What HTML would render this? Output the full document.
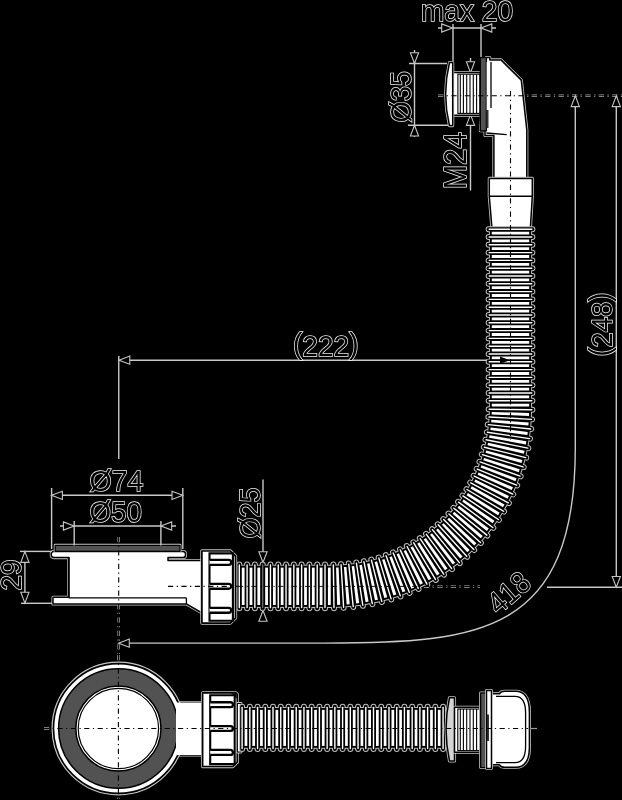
<!DOCTYPE html>
<html><head><meta charset="utf-8"><style>
html,body{margin:0;padding:0;background:#000;}
svg{display:block;will-change:transform;}
.t{font-family:"Liberation Sans",sans-serif;fill:#000;stroke:#f0f0f0;stroke-width:1.5px;paint-order:stroke;}
</style></head><body>
<svg width="622" height="800" viewBox="0 0 622 800">
<rect width="622" height="800" fill="#000"/>
<line x1="438" y1="95.8" x2="622" y2="95.8" stroke="#a8a8a8" stroke-width="2.5" stroke-dasharray="5.2 3.5 1.2 3.5"/>
<line x1="424" y1="586.4" x2="480" y2="586.4" stroke="#a8a8a8" stroke-width="2.5" stroke-dasharray="5.2 3.5 1.2 3.5"/>
<line x1="118.7" y1="537" x2="118.7" y2="660" stroke="#a8a8a8" stroke-width="2.5" stroke-dasharray="5.2 3.5 1.2 3.5"/>
<line x1="168" y1="586.4" x2="238" y2="586.4" stroke="#a8a8a8" stroke-width="2.5" stroke-dasharray="5.2 3.5 1.2 3.5"/>
<line x1="44" y1="728.5" x2="528" y2="728.5" stroke="#a8a8a8" stroke-width="2.5" stroke-dasharray="5.2 3.5 1.2 3.5"/>
<line x1="118.4" y1="655" x2="118.4" y2="800" stroke="#a8a8a8" stroke-width="2.5" stroke-dasharray="5.2 3.5 1.2 3.5"/>
<line x1="438" y1="28" x2="496" y2="28" stroke="#c8c8c8" stroke-width="1.4" />
<line x1="453" y1="24" x2="453" y2="61" stroke="#c8c8c8" stroke-width="1.4" />
<line x1="481" y1="24" x2="481" y2="58" stroke="#c8c8c8" stroke-width="1.4" />
<polygon points="452.5,28 441.7,32.1 441.7,23.9" fill="#000" stroke="#c4c4c4" stroke-width="1.1" stroke-linejoin="miter"/>
<polygon points="481,28 491.8,23.9 491.8,32.1" fill="#000" stroke="#c4c4c4" stroke-width="1.1" stroke-linejoin="miter"/>
<text x="421" y="20.5" font-size="29.5" text-anchor="start" textLength="92" lengthAdjust="spacingAndGlyphs" class="t">max 20</text>
<line x1="414.5" y1="50" x2="414.5" y2="137" stroke="#c8c8c8" stroke-width="1.4" />
<line x1="409" y1="63.5" x2="447" y2="63.5" stroke="#c8c8c8" stroke-width="1.4" />
<line x1="408" y1="125.2" x2="449" y2="125.2" stroke="#c8c8c8" stroke-width="1.4" />
<polygon points="414.5,63.5 410.4,52.7 418.6,52.7" fill="#000" stroke="#c4c4c4" stroke-width="1.1" stroke-linejoin="miter"/>
<polygon points="414.5,125.2 418.6,136 410.4,136" fill="#000" stroke="#c4c4c4" stroke-width="1.1" stroke-linejoin="miter"/>
<text x="411" y="122.5" font-size="29.5" text-anchor="start" textLength="51.5" lengthAdjust="spacingAndGlyphs" transform="rotate(-90 411 122.5)" class="t">Ø35</text>
<line x1="470.5" y1="58" x2="470.5" y2="190.5" stroke="#c8c8c8" stroke-width="1.4" />
<polygon points="470.5,72.6 466.4,61.8 474.6,61.8" fill="#000" stroke="#c4c4c4" stroke-width="1.1" stroke-linejoin="miter"/>
<polygon points="470.5,114.6 474.6,125.4 466.4,125.4" fill="#000" stroke="#c4c4c4" stroke-width="1.1" stroke-linejoin="miter"/>
<text x="466.3" y="189.3" font-size="30.5" text-anchor="start" textLength="57" lengthAdjust="spacingAndGlyphs" transform="rotate(-90 466.3 189.3)" class="t">M24</text>
<path d="M452.7,72.6 L480.5,72.6 L480.5,115.2 L452.7,115.2 Z" fill="none" stroke="#c4c4c4" stroke-width="3.1" stroke-linejoin="round"/>
<path d="M452.7,72.6 L480.5,72.6 L480.5,115.2 L452.7,115.2 Z" fill="#fff" stroke="#000" stroke-width="1.5" stroke-linejoin="round"/>
<rect x="457.9" y="74.2" width="22" height="39.2" fill="none" stroke="#000" stroke-width="1.1"/>
<line x1="460.3" y1="74.5" x2="460.3" y2="113" stroke="#000" stroke-width="1.1"/>
<line x1="463.4" y1="74.5" x2="463.4" y2="113" stroke="#000" stroke-width="1.1"/>
<line x1="466.7" y1="74.5" x2="466.7" y2="113" stroke="#000" stroke-width="1.1"/>
<line x1="470" y1="74.5" x2="470" y2="113" stroke="#000" stroke-width="1.1"/>
<line x1="473.3" y1="74.5" x2="473.3" y2="113" stroke="#000" stroke-width="1.1"/>
<line x1="476.6" y1="74.5" x2="476.6" y2="113" stroke="#000" stroke-width="1.1"/>
<path d="M452.7,62.5 L449.5,62.5 Q441.8,94 449.5,125.6 L452.7,125.6 Z" fill="none" stroke="#c4c4c4" stroke-width="3.1" stroke-linejoin="round"/>
<path d="M452.7,62.5 L449.5,62.5 Q441.8,94 449.5,125.6 L452.7,125.6 Z" fill="#fff" stroke="#000" stroke-width="1.5" stroke-linejoin="round"/>
<path d="M486.4,57.6 L489.8,57.6 L489.8,59.9 L501,59.9 L521.3,80.1 L526.8,130 L526.8,178 L493.9,178 L493.9,135.5 L485,135.5 L485,130.8 L480.4,130.8 Z" fill="none" stroke="#c4c4c4" stroke-width="3.1" stroke-linejoin="round"/>
<path d="M486.4,57.6 L489.8,57.6 L489.8,59.9 L501,59.9 L521.3,80.1 L526.8,130 L526.8,178 L493.9,178 L493.9,135.5 L485,135.5 L485,130.8 L480.4,130.8 Z" fill="#fff" stroke="#000" stroke-width="1.5" stroke-linejoin="round"/>
<path d="M480.3,57.6 L486.4,57.6 L486.4,130.8 L480.3,130.8 Z" fill="#525252" stroke="#000" stroke-width="1.3" stroke-linejoin="round"/>
<path d="M486.6,62 L490.6,62 L490.6,110.5 L486.6,110.5 Z" fill="#fff"/>
<line x1="491" y1="62" x2="491" y2="108" stroke="#000" stroke-width="1.3"/>
<line x1="486.4" y1="133" x2="506.7" y2="134.6" stroke="#000" stroke-width="1.4"/>
<path d="M486.4,110 L488.5,110 L488.5,128 L486.4,128" fill="#333" stroke="none"/>
<path d="M489.3,178.4 L532.3,178.4 L532.3,196.3 L530.4,227.5 L491.9,227.5 L489.3,196.3 Z" fill="none" stroke="#c4c4c4" stroke-width="3.1" stroke-linejoin="round"/>
<path d="M489.3,178.4 L532.3,178.4 L532.3,196.3 L530.4,227.5 L491.9,227.5 L489.3,196.3 Z" fill="#fff" stroke="#000" stroke-width="1.5" stroke-linejoin="round"/>
<line x1="489.3" y1="196.3" x2="532.3" y2="196.3" stroke="#000" stroke-width="1.5"/>
<line x1="438" y1="95.8" x2="622" y2="95.8" stroke="#000" stroke-width="1.1" stroke-dasharray="5.2 3.5 1.2 3.5"/>
<line x1="532.4" y1="229.2" x2="488.6" y2="229.2" stroke="#bdbdbd" stroke-width="5.9" stroke-linecap="round"/>
<line x1="532.4" y1="237" x2="488.6" y2="237" stroke="#bdbdbd" stroke-width="5.9" stroke-linecap="round"/>
<line x1="532.4" y1="244.8" x2="488.6" y2="244.8" stroke="#bdbdbd" stroke-width="5.9" stroke-linecap="round"/>
<line x1="532.4" y1="252.6" x2="488.6" y2="252.6" stroke="#bdbdbd" stroke-width="5.9" stroke-linecap="round"/>
<line x1="532.4" y1="260.4" x2="488.6" y2="260.4" stroke="#bdbdbd" stroke-width="5.9" stroke-linecap="round"/>
<line x1="532.4" y1="268.2" x2="488.6" y2="268.2" stroke="#bdbdbd" stroke-width="5.9" stroke-linecap="round"/>
<line x1="532.4" y1="276" x2="488.6" y2="276" stroke="#bdbdbd" stroke-width="5.9" stroke-linecap="round"/>
<line x1="532.4" y1="283.8" x2="488.6" y2="283.8" stroke="#bdbdbd" stroke-width="5.9" stroke-linecap="round"/>
<line x1="532.4" y1="291.6" x2="488.6" y2="291.6" stroke="#bdbdbd" stroke-width="5.9" stroke-linecap="round"/>
<line x1="532.4" y1="299.4" x2="488.6" y2="299.4" stroke="#bdbdbd" stroke-width="5.9" stroke-linecap="round"/>
<line x1="532.4" y1="307.2" x2="488.6" y2="307.2" stroke="#bdbdbd" stroke-width="5.9" stroke-linecap="round"/>
<line x1="532.4" y1="315" x2="488.6" y2="315" stroke="#bdbdbd" stroke-width="5.9" stroke-linecap="round"/>
<line x1="532.4" y1="322.8" x2="488.6" y2="322.8" stroke="#bdbdbd" stroke-width="5.9" stroke-linecap="round"/>
<line x1="532.4" y1="330.6" x2="488.6" y2="330.6" stroke="#bdbdbd" stroke-width="5.9" stroke-linecap="round"/>
<line x1="532.4" y1="338.4" x2="488.6" y2="338.4" stroke="#bdbdbd" stroke-width="5.9" stroke-linecap="round"/>
<line x1="532.4" y1="346.2" x2="488.6" y2="346.2" stroke="#bdbdbd" stroke-width="5.9" stroke-linecap="round"/>
<line x1="532.4" y1="354" x2="488.6" y2="354" stroke="#bdbdbd" stroke-width="5.9" stroke-linecap="round"/>
<line x1="532.4" y1="361.8" x2="488.6" y2="361.8" stroke="#bdbdbd" stroke-width="5.9" stroke-linecap="round"/>
<line x1="532.4" y1="369.6" x2="488.6" y2="369.6" stroke="#bdbdbd" stroke-width="5.9" stroke-linecap="round"/>
<line x1="532.4" y1="377.4" x2="488.6" y2="377.4" stroke="#bdbdbd" stroke-width="5.9" stroke-linecap="round"/>
<line x1="532.4" y1="385.2" x2="488.6" y2="385.2" stroke="#bdbdbd" stroke-width="5.9" stroke-linecap="round"/>
<line x1="532.4" y1="393" x2="488.6" y2="393" stroke="#bdbdbd" stroke-width="5.9" stroke-linecap="round"/>
<line x1="532.4" y1="400.8" x2="488.6" y2="400.8" stroke="#bdbdbd" stroke-width="5.9" stroke-linecap="round"/>
<line x1="532.39" y1="409.72" x2="488.59" y2="409.23" stroke="#bdbdbd" stroke-width="5.9" stroke-linecap="round"/>
<line x1="532.06" y1="419.38" x2="488.33" y2="416.91" stroke="#bdbdbd" stroke-width="5.9" stroke-linecap="round"/>
<line x1="531.29" y1="429.03" x2="487.72" y2="424.55" stroke="#bdbdbd" stroke-width="5.9" stroke-linecap="round"/>
<line x1="530.07" y1="438.66" x2="486.76" y2="432.14" stroke="#bdbdbd" stroke-width="5.9" stroke-linecap="round"/>
<line x1="528.4" y1="448.22" x2="485.44" y2="439.67" stroke="#bdbdbd" stroke-width="5.9" stroke-linecap="round"/>
<line x1="526.28" y1="457.7" x2="483.78" y2="447.11" stroke="#bdbdbd" stroke-width="5.9" stroke-linecap="round"/>
<line x1="523.7" y1="467.08" x2="481.75" y2="454.46" stroke="#bdbdbd" stroke-width="5.9" stroke-linecap="round"/>
<line x1="520.66" y1="476.34" x2="479.38" y2="461.7" stroke="#bdbdbd" stroke-width="5.9" stroke-linecap="round"/>
<line x1="517.18" y1="485.43" x2="476.66" y2="468.8" stroke="#bdbdbd" stroke-width="5.9" stroke-linecap="round"/>
<line x1="513.26" y1="494.36" x2="473.61" y2="475.75" stroke="#bdbdbd" stroke-width="5.9" stroke-linecap="round"/>
<line x1="508.91" y1="503.08" x2="470.21" y2="482.56" stroke="#bdbdbd" stroke-width="5.9" stroke-linecap="round"/>
<line x1="504.12" y1="511.58" x2="466.48" y2="489.18" stroke="#bdbdbd" stroke-width="5.9" stroke-linecap="round"/>
<line x1="498.92" y1="519.85" x2="462.45" y2="495.59" stroke="#bdbdbd" stroke-width="5.9" stroke-linecap="round"/>
<line x1="493.32" y1="527.84" x2="458.09" y2="501.81" stroke="#bdbdbd" stroke-width="5.9" stroke-linecap="round"/>
<line x1="487.33" y1="535.54" x2="453.43" y2="507.8" stroke="#bdbdbd" stroke-width="5.9" stroke-linecap="round"/>
<line x1="480.95" y1="542.94" x2="448.48" y2="513.54" stroke="#bdbdbd" stroke-width="5.9" stroke-linecap="round"/>
<line x1="474.22" y1="550.01" x2="443.25" y2="519.04" stroke="#bdbdbd" stroke-width="5.9" stroke-linecap="round"/>
<line x1="467.14" y1="556.75" x2="437.76" y2="524.26" stroke="#bdbdbd" stroke-width="5.9" stroke-linecap="round"/>
<line x1="459.75" y1="563.11" x2="432.01" y2="529.22" stroke="#bdbdbd" stroke-width="5.9" stroke-linecap="round"/>
<line x1="452.04" y1="569.1" x2="426.01" y2="533.87" stroke="#bdbdbd" stroke-width="5.9" stroke-linecap="round"/>
<line x1="444.04" y1="574.7" x2="419.8" y2="538.23" stroke="#bdbdbd" stroke-width="5.9" stroke-linecap="round"/>
<line x1="435.78" y1="579.9" x2="413.38" y2="542.26" stroke="#bdbdbd" stroke-width="5.9" stroke-linecap="round"/>
<line x1="427.27" y1="584.69" x2="406.77" y2="545.98" stroke="#bdbdbd" stroke-width="5.9" stroke-linecap="round"/>
<line x1="418.54" y1="589.04" x2="399.97" y2="549.37" stroke="#bdbdbd" stroke-width="5.9" stroke-linecap="round"/>
<line x1="409.61" y1="592.95" x2="393.01" y2="552.42" stroke="#bdbdbd" stroke-width="5.9" stroke-linecap="round"/>
<line x1="400.52" y1="596.42" x2="385.89" y2="555.14" stroke="#bdbdbd" stroke-width="5.9" stroke-linecap="round"/>
<line x1="391.27" y1="599.45" x2="378.65" y2="557.51" stroke="#bdbdbd" stroke-width="5.9" stroke-linecap="round"/>
<line x1="381.88" y1="602.03" x2="371.31" y2="559.52" stroke="#bdbdbd" stroke-width="5.9" stroke-linecap="round"/>
<line x1="372.4" y1="604.15" x2="363.86" y2="561.19" stroke="#bdbdbd" stroke-width="5.9" stroke-linecap="round"/>
<line x1="362.86" y1="605.82" x2="356.32" y2="562.51" stroke="#bdbdbd" stroke-width="5.9" stroke-linecap="round"/>
<line x1="353.26" y1="607.04" x2="348.7" y2="563.48" stroke="#bdbdbd" stroke-width="5.9" stroke-linecap="round"/>
<line x1="343.62" y1="607.83" x2="341.05" y2="564.1" stroke="#bdbdbd" stroke-width="5.9" stroke-linecap="round"/>
<line x1="333.98" y1="608.18" x2="333.35" y2="564.38" stroke="#bdbdbd" stroke-width="5.9" stroke-linecap="round"/>
<line x1="324.99" y1="608.2" x2="324.99" y2="564.4" stroke="#bdbdbd" stroke-width="5.9" stroke-linecap="round"/>
<line x1="317.2" y1="608.2" x2="317.2" y2="564.4" stroke="#bdbdbd" stroke-width="5.9" stroke-linecap="round"/>
<line x1="309.41" y1="608.2" x2="309.41" y2="564.4" stroke="#bdbdbd" stroke-width="5.9" stroke-linecap="round"/>
<line x1="301.62" y1="608.2" x2="301.62" y2="564.4" stroke="#bdbdbd" stroke-width="5.9" stroke-linecap="round"/>
<line x1="293.83" y1="608.2" x2="293.83" y2="564.4" stroke="#bdbdbd" stroke-width="5.9" stroke-linecap="round"/>
<line x1="286.04" y1="608.2" x2="286.04" y2="564.4" stroke="#bdbdbd" stroke-width="5.9" stroke-linecap="round"/>
<line x1="278.25" y1="608.2" x2="278.25" y2="564.4" stroke="#bdbdbd" stroke-width="5.9" stroke-linecap="round"/>
<line x1="270.46" y1="608.2" x2="270.46" y2="564.4" stroke="#bdbdbd" stroke-width="5.9" stroke-linecap="round"/>
<line x1="262.67" y1="608.2" x2="262.67" y2="564.4" stroke="#bdbdbd" stroke-width="5.9" stroke-linecap="round"/>
<line x1="254.88" y1="608.2" x2="254.88" y2="564.4" stroke="#bdbdbd" stroke-width="5.9" stroke-linecap="round"/>
<line x1="247.09" y1="608.2" x2="247.09" y2="564.4" stroke="#bdbdbd" stroke-width="5.9" stroke-linecap="round"/>
<line x1="239.3" y1="608.2" x2="239.3" y2="564.4" stroke="#bdbdbd" stroke-width="5.9" stroke-linecap="round"/>
<polygon points="531.1,229.2 531.1,237 489.9,237 489.9,229.2" fill="#000" stroke="#bdbdbd" stroke-width="2"/>
<polygon points="531.1,237 531.1,244.8 489.9,244.8 489.9,237" fill="#000" stroke="#bdbdbd" stroke-width="2"/>
<polygon points="531.1,244.8 531.1,252.6 489.9,252.6 489.9,244.8" fill="#000" stroke="#bdbdbd" stroke-width="2"/>
<polygon points="531.1,252.6 531.1,260.4 489.9,260.4 489.9,252.6" fill="#000" stroke="#bdbdbd" stroke-width="2"/>
<polygon points="531.1,260.4 531.1,268.2 489.9,268.2 489.9,260.4" fill="#000" stroke="#bdbdbd" stroke-width="2"/>
<polygon points="531.1,268.2 531.1,276 489.9,276 489.9,268.2" fill="#000" stroke="#bdbdbd" stroke-width="2"/>
<polygon points="531.1,276 531.1,283.8 489.9,283.8 489.9,276" fill="#000" stroke="#bdbdbd" stroke-width="2"/>
<polygon points="531.1,283.8 531.1,291.6 489.9,291.6 489.9,283.8" fill="#000" stroke="#bdbdbd" stroke-width="2"/>
<polygon points="531.1,291.6 531.1,299.4 489.9,299.4 489.9,291.6" fill="#000" stroke="#bdbdbd" stroke-width="2"/>
<polygon points="531.1,299.4 531.1,307.2 489.9,307.2 489.9,299.4" fill="#000" stroke="#bdbdbd" stroke-width="2"/>
<polygon points="531.1,307.2 531.1,315 489.9,315 489.9,307.2" fill="#000" stroke="#bdbdbd" stroke-width="2"/>
<polygon points="531.1,315 531.1,322.8 489.9,322.8 489.9,315" fill="#000" stroke="#bdbdbd" stroke-width="2"/>
<polygon points="531.1,322.8 531.1,330.6 489.9,330.6 489.9,322.8" fill="#000" stroke="#bdbdbd" stroke-width="2"/>
<polygon points="531.1,330.6 531.1,338.4 489.9,338.4 489.9,330.6" fill="#000" stroke="#bdbdbd" stroke-width="2"/>
<polygon points="531.1,338.4 531.1,346.2 489.9,346.2 489.9,338.4" fill="#000" stroke="#bdbdbd" stroke-width="2"/>
<polygon points="531.1,346.2 531.1,354 489.9,354 489.9,346.2" fill="#000" stroke="#bdbdbd" stroke-width="2"/>
<polygon points="531.1,354 531.1,361.8 489.9,361.8 489.9,354" fill="#000" stroke="#bdbdbd" stroke-width="2"/>
<polygon points="531.1,361.8 531.1,369.6 489.9,369.6 489.9,361.8" fill="#000" stroke="#bdbdbd" stroke-width="2"/>
<polygon points="531.1,369.6 531.1,377.4 489.9,377.4 489.9,369.6" fill="#000" stroke="#bdbdbd" stroke-width="2"/>
<polygon points="531.1,377.4 531.1,385.2 489.9,385.2 489.9,377.4" fill="#000" stroke="#bdbdbd" stroke-width="2"/>
<polygon points="531.1,385.2 531.1,393 489.9,393 489.9,385.2" fill="#000" stroke="#bdbdbd" stroke-width="2"/>
<polygon points="531.1,393 531.1,400.8 489.9,400.8 489.9,393" fill="#000" stroke="#bdbdbd" stroke-width="2"/>
<polygon points="531.1,400.8 531.09,409.71 489.89,409.24 489.9,400.8" fill="#000" stroke="#bdbdbd" stroke-width="2"/>
<polygon points="531.09,409.71 530.76,419.31 489.63,416.98 489.89,409.24" fill="#000" stroke="#bdbdbd" stroke-width="2"/>
<polygon points="530.76,419.31 530,428.9 489.02,424.69 489.63,416.98" fill="#000" stroke="#bdbdbd" stroke-width="2"/>
<polygon points="530,428.9 528.79,438.46 488.05,432.33 489.02,424.69" fill="#000" stroke="#bdbdbd" stroke-width="2"/>
<polygon points="528.79,438.46 527.13,447.96 486.72,439.92 488.05,432.33" fill="#000" stroke="#bdbdbd" stroke-width="2"/>
<polygon points="527.13,447.96 525.01,457.39 485.04,447.43 486.72,439.92" fill="#000" stroke="#bdbdbd" stroke-width="2"/>
<polygon points="525.01,457.39 522.45,466.71 483,454.84 485.04,447.43" fill="#000" stroke="#bdbdbd" stroke-width="2"/>
<polygon points="522.45,466.71 519.44,475.9 480.61,462.13 483,454.84" fill="#000" stroke="#bdbdbd" stroke-width="2"/>
<polygon points="519.44,475.9 515.98,484.94 477.87,469.3 480.61,462.13" fill="#000" stroke="#bdbdbd" stroke-width="2"/>
<polygon points="515.98,484.94 512.08,493.81 474.79,476.31 477.87,469.3" fill="#000" stroke="#bdbdbd" stroke-width="2"/>
<polygon points="512.08,493.81 507.76,502.47 471.36,483.17 474.79,476.31" fill="#000" stroke="#bdbdbd" stroke-width="2"/>
<polygon points="507.76,502.47 503.01,510.91 467.6,489.84 471.36,483.17" fill="#000" stroke="#bdbdbd" stroke-width="2"/>
<polygon points="503.01,510.91 497.83,519.13 463.53,496.31 467.6,489.84" fill="#000" stroke="#bdbdbd" stroke-width="2"/>
<polygon points="497.83,519.13 492.27,527.06 459.13,502.58 463.53,496.31" fill="#000" stroke="#bdbdbd" stroke-width="2"/>
<polygon points="492.27,527.06 486.32,534.71 454.43,508.63 459.13,502.58" fill="#000" stroke="#bdbdbd" stroke-width="2"/>
<polygon points="486.32,534.71 479.99,542.07 449.45,514.42 454.43,508.63" fill="#000" stroke="#bdbdbd" stroke-width="2"/>
<polygon points="479.99,542.07 473.3,549.09 444.17,519.96 449.45,514.42" fill="#000" stroke="#bdbdbd" stroke-width="2"/>
<polygon points="473.3,549.09 466.27,555.78 438.63,525.23 444.17,519.96" fill="#000" stroke="#bdbdbd" stroke-width="2"/>
<polygon points="466.27,555.78 458.92,562.11 432.83,530.22 438.63,525.23" fill="#000" stroke="#bdbdbd" stroke-width="2"/>
<polygon points="458.92,562.11 451.27,568.06 426.79,534.92 432.83,530.22" fill="#000" stroke="#bdbdbd" stroke-width="2"/>
<polygon points="451.27,568.06 443.33,573.62 420.52,539.31 426.79,534.92" fill="#000" stroke="#bdbdbd" stroke-width="2"/>
<polygon points="443.33,573.62 435.12,578.79 414.04,543.38 420.52,539.31" fill="#000" stroke="#bdbdbd" stroke-width="2"/>
<polygon points="435.12,578.79 426.66,583.54 407.37,547.13 414.04,543.38" fill="#000" stroke="#bdbdbd" stroke-width="2"/>
<polygon points="426.66,583.54 417.99,587.86 400.52,550.55 407.37,547.13" fill="#000" stroke="#bdbdbd" stroke-width="2"/>
<polygon points="417.99,587.86 409.12,591.75 393.5,553.63 400.52,550.55" fill="#000" stroke="#bdbdbd" stroke-width="2"/>
<polygon points="409.12,591.75 400.09,595.2 386.32,556.36 393.5,553.63" fill="#000" stroke="#bdbdbd" stroke-width="2"/>
<polygon points="400.09,595.2 390.89,598.2 379.03,558.75 386.32,556.36" fill="#000" stroke="#bdbdbd" stroke-width="2"/>
<polygon points="390.89,598.2 381.57,600.76 371.62,560.78 379.03,558.75" fill="#000" stroke="#bdbdbd" stroke-width="2"/>
<polygon points="381.57,600.76 372.15,602.87 364.11,562.47 371.62,560.78" fill="#000" stroke="#bdbdbd" stroke-width="2"/>
<polygon points="372.15,602.87 362.66,604.53 356.51,563.8 364.11,562.47" fill="#000" stroke="#bdbdbd" stroke-width="2"/>
<polygon points="362.66,604.53 353.12,605.75 348.84,564.78 356.51,563.8" fill="#000" stroke="#bdbdbd" stroke-width="2"/>
<polygon points="353.12,605.75 343.54,606.53 341.12,565.4 348.84,564.78" fill="#000" stroke="#bdbdbd" stroke-width="2"/>
<polygon points="343.54,606.53 333.96,606.88 333.37,565.68 341.12,565.4" fill="#000" stroke="#bdbdbd" stroke-width="2"/>
<polygon points="333.96,606.88 324.99,606.9 324.99,565.7 333.37,565.68" fill="#000" stroke="#bdbdbd" stroke-width="2"/>
<polygon points="324.99,606.9 317.2,606.9 317.2,565.7 324.99,565.7" fill="#000" stroke="#bdbdbd" stroke-width="2"/>
<polygon points="317.2,606.9 309.41,606.9 309.41,565.7 317.2,565.7" fill="#000" stroke="#bdbdbd" stroke-width="2"/>
<polygon points="309.41,606.9 301.62,606.9 301.62,565.7 309.41,565.7" fill="#000" stroke="#bdbdbd" stroke-width="2"/>
<polygon points="301.62,606.9 293.83,606.9 293.83,565.7 301.62,565.7" fill="#000" stroke="#bdbdbd" stroke-width="2"/>
<polygon points="293.83,606.9 286.04,606.9 286.04,565.7 293.83,565.7" fill="#000" stroke="#bdbdbd" stroke-width="2"/>
<polygon points="286.04,606.9 278.25,606.9 278.25,565.7 286.04,565.7" fill="#000" stroke="#bdbdbd" stroke-width="2"/>
<polygon points="278.25,606.9 270.46,606.9 270.46,565.7 278.25,565.7" fill="#000" stroke="#bdbdbd" stroke-width="2"/>
<polygon points="270.46,606.9 262.67,606.9 262.67,565.7 270.46,565.7" fill="#000" stroke="#bdbdbd" stroke-width="2"/>
<polygon points="262.67,606.9 254.88,606.9 254.88,565.7 262.67,565.7" fill="#000" stroke="#bdbdbd" stroke-width="2"/>
<polygon points="254.88,606.9 247.09,606.9 247.09,565.7 254.88,565.7" fill="#000" stroke="#bdbdbd" stroke-width="2"/>
<polygon points="247.09,606.9 239.3,606.9 239.3,565.7 247.09,565.7" fill="#000" stroke="#bdbdbd" stroke-width="2"/>
<polygon points="531.1,229.2 531.1,237 489.9,237 489.9,229.2" fill="#000"/>
<polygon points="531.1,237 531.1,244.8 489.9,244.8 489.9,237" fill="#000"/>
<polygon points="531.1,244.8 531.1,252.6 489.9,252.6 489.9,244.8" fill="#000"/>
<polygon points="531.1,252.6 531.1,260.4 489.9,260.4 489.9,252.6" fill="#000"/>
<polygon points="531.1,260.4 531.1,268.2 489.9,268.2 489.9,260.4" fill="#000"/>
<polygon points="531.1,268.2 531.1,276 489.9,276 489.9,268.2" fill="#000"/>
<polygon points="531.1,276 531.1,283.8 489.9,283.8 489.9,276" fill="#000"/>
<polygon points="531.1,283.8 531.1,291.6 489.9,291.6 489.9,283.8" fill="#000"/>
<polygon points="531.1,291.6 531.1,299.4 489.9,299.4 489.9,291.6" fill="#000"/>
<polygon points="531.1,299.4 531.1,307.2 489.9,307.2 489.9,299.4" fill="#000"/>
<polygon points="531.1,307.2 531.1,315 489.9,315 489.9,307.2" fill="#000"/>
<polygon points="531.1,315 531.1,322.8 489.9,322.8 489.9,315" fill="#000"/>
<polygon points="531.1,322.8 531.1,330.6 489.9,330.6 489.9,322.8" fill="#000"/>
<polygon points="531.1,330.6 531.1,338.4 489.9,338.4 489.9,330.6" fill="#000"/>
<polygon points="531.1,338.4 531.1,346.2 489.9,346.2 489.9,338.4" fill="#000"/>
<polygon points="531.1,346.2 531.1,354 489.9,354 489.9,346.2" fill="#000"/>
<polygon points="531.1,354 531.1,361.8 489.9,361.8 489.9,354" fill="#000"/>
<polygon points="531.1,361.8 531.1,369.6 489.9,369.6 489.9,361.8" fill="#000"/>
<polygon points="531.1,369.6 531.1,377.4 489.9,377.4 489.9,369.6" fill="#000"/>
<polygon points="531.1,377.4 531.1,385.2 489.9,385.2 489.9,377.4" fill="#000"/>
<polygon points="531.1,385.2 531.1,393 489.9,393 489.9,385.2" fill="#000"/>
<polygon points="531.1,393 531.1,400.8 489.9,400.8 489.9,393" fill="#000"/>
<polygon points="531.1,400.8 531.09,409.71 489.89,409.24 489.9,400.8" fill="#000"/>
<polygon points="531.09,409.71 530.76,419.31 489.63,416.98 489.89,409.24" fill="#000"/>
<polygon points="530.76,419.31 530,428.9 489.02,424.69 489.63,416.98" fill="#000"/>
<polygon points="530,428.9 528.79,438.46 488.05,432.33 489.02,424.69" fill="#000"/>
<polygon points="528.79,438.46 527.13,447.96 486.72,439.92 488.05,432.33" fill="#000"/>
<polygon points="527.13,447.96 525.01,457.39 485.04,447.43 486.72,439.92" fill="#000"/>
<polygon points="525.01,457.39 522.45,466.71 483,454.84 485.04,447.43" fill="#000"/>
<polygon points="522.45,466.71 519.44,475.9 480.61,462.13 483,454.84" fill="#000"/>
<polygon points="519.44,475.9 515.98,484.94 477.87,469.3 480.61,462.13" fill="#000"/>
<polygon points="515.98,484.94 512.08,493.81 474.79,476.31 477.87,469.3" fill="#000"/>
<polygon points="512.08,493.81 507.76,502.47 471.36,483.17 474.79,476.31" fill="#000"/>
<polygon points="507.76,502.47 503.01,510.91 467.6,489.84 471.36,483.17" fill="#000"/>
<polygon points="503.01,510.91 497.83,519.13 463.53,496.31 467.6,489.84" fill="#000"/>
<polygon points="497.83,519.13 492.27,527.06 459.13,502.58 463.53,496.31" fill="#000"/>
<polygon points="492.27,527.06 486.32,534.71 454.43,508.63 459.13,502.58" fill="#000"/>
<polygon points="486.32,534.71 479.99,542.07 449.45,514.42 454.43,508.63" fill="#000"/>
<polygon points="479.99,542.07 473.3,549.09 444.17,519.96 449.45,514.42" fill="#000"/>
<polygon points="473.3,549.09 466.27,555.78 438.63,525.23 444.17,519.96" fill="#000"/>
<polygon points="466.27,555.78 458.92,562.11 432.83,530.22 438.63,525.23" fill="#000"/>
<polygon points="458.92,562.11 451.27,568.06 426.79,534.92 432.83,530.22" fill="#000"/>
<polygon points="451.27,568.06 443.33,573.62 420.52,539.31 426.79,534.92" fill="#000"/>
<polygon points="443.33,573.62 435.12,578.79 414.04,543.38 420.52,539.31" fill="#000"/>
<polygon points="435.12,578.79 426.66,583.54 407.37,547.13 414.04,543.38" fill="#000"/>
<polygon points="426.66,583.54 417.99,587.86 400.52,550.55 407.37,547.13" fill="#000"/>
<polygon points="417.99,587.86 409.12,591.75 393.5,553.63 400.52,550.55" fill="#000"/>
<polygon points="409.12,591.75 400.09,595.2 386.32,556.36 393.5,553.63" fill="#000"/>
<polygon points="400.09,595.2 390.89,598.2 379.03,558.75 386.32,556.36" fill="#000"/>
<polygon points="390.89,598.2 381.57,600.76 371.62,560.78 379.03,558.75" fill="#000"/>
<polygon points="381.57,600.76 372.15,602.87 364.11,562.47 371.62,560.78" fill="#000"/>
<polygon points="372.15,602.87 362.66,604.53 356.51,563.8 364.11,562.47" fill="#000"/>
<polygon points="362.66,604.53 353.12,605.75 348.84,564.78 356.51,563.8" fill="#000"/>
<polygon points="353.12,605.75 343.54,606.53 341.12,565.4 348.84,564.78" fill="#000"/>
<polygon points="343.54,606.53 333.96,606.88 333.37,565.68 341.12,565.4" fill="#000"/>
<polygon points="333.96,606.88 324.99,606.9 324.99,565.7 333.37,565.68" fill="#000"/>
<polygon points="324.99,606.9 317.2,606.9 317.2,565.7 324.99,565.7" fill="#000"/>
<polygon points="317.2,606.9 309.41,606.9 309.41,565.7 317.2,565.7" fill="#000"/>
<polygon points="309.41,606.9 301.62,606.9 301.62,565.7 309.41,565.7" fill="#000"/>
<polygon points="301.62,606.9 293.83,606.9 293.83,565.7 301.62,565.7" fill="#000"/>
<polygon points="293.83,606.9 286.04,606.9 286.04,565.7 293.83,565.7" fill="#000"/>
<polygon points="286.04,606.9 278.25,606.9 278.25,565.7 286.04,565.7" fill="#000"/>
<polygon points="278.25,606.9 270.46,606.9 270.46,565.7 278.25,565.7" fill="#000"/>
<polygon points="270.46,606.9 262.67,606.9 262.67,565.7 270.46,565.7" fill="#000"/>
<polygon points="262.67,606.9 254.88,606.9 254.88,565.7 262.67,565.7" fill="#000"/>
<polygon points="254.88,606.9 247.09,606.9 247.09,565.7 254.88,565.7" fill="#000"/>
<polygon points="247.09,606.9 239.3,606.9 239.3,565.7 247.09,565.7" fill="#000"/>
<line x1="532.4" y1="229.2" x2="488.6" y2="229.2" stroke="#000" stroke-width="3.9" stroke-linecap="round"/>
<line x1="532.4" y1="237" x2="488.6" y2="237" stroke="#000" stroke-width="3.9" stroke-linecap="round"/>
<line x1="532.4" y1="244.8" x2="488.6" y2="244.8" stroke="#000" stroke-width="3.9" stroke-linecap="round"/>
<line x1="532.4" y1="252.6" x2="488.6" y2="252.6" stroke="#000" stroke-width="3.9" stroke-linecap="round"/>
<line x1="532.4" y1="260.4" x2="488.6" y2="260.4" stroke="#000" stroke-width="3.9" stroke-linecap="round"/>
<line x1="532.4" y1="268.2" x2="488.6" y2="268.2" stroke="#000" stroke-width="3.9" stroke-linecap="round"/>
<line x1="532.4" y1="276" x2="488.6" y2="276" stroke="#000" stroke-width="3.9" stroke-linecap="round"/>
<line x1="532.4" y1="283.8" x2="488.6" y2="283.8" stroke="#000" stroke-width="3.9" stroke-linecap="round"/>
<line x1="532.4" y1="291.6" x2="488.6" y2="291.6" stroke="#000" stroke-width="3.9" stroke-linecap="round"/>
<line x1="532.4" y1="299.4" x2="488.6" y2="299.4" stroke="#000" stroke-width="3.9" stroke-linecap="round"/>
<line x1="532.4" y1="307.2" x2="488.6" y2="307.2" stroke="#000" stroke-width="3.9" stroke-linecap="round"/>
<line x1="532.4" y1="315" x2="488.6" y2="315" stroke="#000" stroke-width="3.9" stroke-linecap="round"/>
<line x1="532.4" y1="322.8" x2="488.6" y2="322.8" stroke="#000" stroke-width="3.9" stroke-linecap="round"/>
<line x1="532.4" y1="330.6" x2="488.6" y2="330.6" stroke="#000" stroke-width="3.9" stroke-linecap="round"/>
<line x1="532.4" y1="338.4" x2="488.6" y2="338.4" stroke="#000" stroke-width="3.9" stroke-linecap="round"/>
<line x1="532.4" y1="346.2" x2="488.6" y2="346.2" stroke="#000" stroke-width="3.9" stroke-linecap="round"/>
<line x1="532.4" y1="354" x2="488.6" y2="354" stroke="#000" stroke-width="3.9" stroke-linecap="round"/>
<line x1="532.4" y1="361.8" x2="488.6" y2="361.8" stroke="#000" stroke-width="3.9" stroke-linecap="round"/>
<line x1="532.4" y1="369.6" x2="488.6" y2="369.6" stroke="#000" stroke-width="3.9" stroke-linecap="round"/>
<line x1="532.4" y1="377.4" x2="488.6" y2="377.4" stroke="#000" stroke-width="3.9" stroke-linecap="round"/>
<line x1="532.4" y1="385.2" x2="488.6" y2="385.2" stroke="#000" stroke-width="3.9" stroke-linecap="round"/>
<line x1="532.4" y1="393" x2="488.6" y2="393" stroke="#000" stroke-width="3.9" stroke-linecap="round"/>
<line x1="532.4" y1="400.8" x2="488.6" y2="400.8" stroke="#000" stroke-width="3.9" stroke-linecap="round"/>
<line x1="532.39" y1="409.72" x2="488.59" y2="409.23" stroke="#000" stroke-width="3.9" stroke-linecap="round"/>
<line x1="532.06" y1="419.38" x2="488.33" y2="416.91" stroke="#000" stroke-width="3.9" stroke-linecap="round"/>
<line x1="531.29" y1="429.03" x2="487.72" y2="424.55" stroke="#000" stroke-width="3.9" stroke-linecap="round"/>
<line x1="530.07" y1="438.66" x2="486.76" y2="432.14" stroke="#000" stroke-width="3.9" stroke-linecap="round"/>
<line x1="528.4" y1="448.22" x2="485.44" y2="439.67" stroke="#000" stroke-width="3.9" stroke-linecap="round"/>
<line x1="526.28" y1="457.7" x2="483.78" y2="447.11" stroke="#000" stroke-width="3.9" stroke-linecap="round"/>
<line x1="523.7" y1="467.08" x2="481.75" y2="454.46" stroke="#000" stroke-width="3.9" stroke-linecap="round"/>
<line x1="520.66" y1="476.34" x2="479.38" y2="461.7" stroke="#000" stroke-width="3.9" stroke-linecap="round"/>
<line x1="517.18" y1="485.43" x2="476.66" y2="468.8" stroke="#000" stroke-width="3.9" stroke-linecap="round"/>
<line x1="513.26" y1="494.36" x2="473.61" y2="475.75" stroke="#000" stroke-width="3.9" stroke-linecap="round"/>
<line x1="508.91" y1="503.08" x2="470.21" y2="482.56" stroke="#000" stroke-width="3.9" stroke-linecap="round"/>
<line x1="504.12" y1="511.58" x2="466.48" y2="489.18" stroke="#000" stroke-width="3.9" stroke-linecap="round"/>
<line x1="498.92" y1="519.85" x2="462.45" y2="495.59" stroke="#000" stroke-width="3.9" stroke-linecap="round"/>
<line x1="493.32" y1="527.84" x2="458.09" y2="501.81" stroke="#000" stroke-width="3.9" stroke-linecap="round"/>
<line x1="487.33" y1="535.54" x2="453.43" y2="507.8" stroke="#000" stroke-width="3.9" stroke-linecap="round"/>
<line x1="480.95" y1="542.94" x2="448.48" y2="513.54" stroke="#000" stroke-width="3.9" stroke-linecap="round"/>
<line x1="474.22" y1="550.01" x2="443.25" y2="519.04" stroke="#000" stroke-width="3.9" stroke-linecap="round"/>
<line x1="467.14" y1="556.75" x2="437.76" y2="524.26" stroke="#000" stroke-width="3.9" stroke-linecap="round"/>
<line x1="459.75" y1="563.11" x2="432.01" y2="529.22" stroke="#000" stroke-width="3.9" stroke-linecap="round"/>
<line x1="452.04" y1="569.1" x2="426.01" y2="533.87" stroke="#000" stroke-width="3.9" stroke-linecap="round"/>
<line x1="444.04" y1="574.7" x2="419.8" y2="538.23" stroke="#000" stroke-width="3.9" stroke-linecap="round"/>
<line x1="435.78" y1="579.9" x2="413.38" y2="542.26" stroke="#000" stroke-width="3.9" stroke-linecap="round"/>
<line x1="427.27" y1="584.69" x2="406.77" y2="545.98" stroke="#000" stroke-width="3.9" stroke-linecap="round"/>
<line x1="418.54" y1="589.04" x2="399.97" y2="549.37" stroke="#000" stroke-width="3.9" stroke-linecap="round"/>
<line x1="409.61" y1="592.95" x2="393.01" y2="552.42" stroke="#000" stroke-width="3.9" stroke-linecap="round"/>
<line x1="400.52" y1="596.42" x2="385.89" y2="555.14" stroke="#000" stroke-width="3.9" stroke-linecap="round"/>
<line x1="391.27" y1="599.45" x2="378.65" y2="557.51" stroke="#000" stroke-width="3.9" stroke-linecap="round"/>
<line x1="381.88" y1="602.03" x2="371.31" y2="559.52" stroke="#000" stroke-width="3.9" stroke-linecap="round"/>
<line x1="372.4" y1="604.15" x2="363.86" y2="561.19" stroke="#000" stroke-width="3.9" stroke-linecap="round"/>
<line x1="362.86" y1="605.82" x2="356.32" y2="562.51" stroke="#000" stroke-width="3.9" stroke-linecap="round"/>
<line x1="353.26" y1="607.04" x2="348.7" y2="563.48" stroke="#000" stroke-width="3.9" stroke-linecap="round"/>
<line x1="343.62" y1="607.83" x2="341.05" y2="564.1" stroke="#000" stroke-width="3.9" stroke-linecap="round"/>
<line x1="333.98" y1="608.18" x2="333.35" y2="564.38" stroke="#000" stroke-width="3.9" stroke-linecap="round"/>
<line x1="324.99" y1="608.2" x2="324.99" y2="564.4" stroke="#000" stroke-width="3.9" stroke-linecap="round"/>
<line x1="317.2" y1="608.2" x2="317.2" y2="564.4" stroke="#000" stroke-width="3.9" stroke-linecap="round"/>
<line x1="309.41" y1="608.2" x2="309.41" y2="564.4" stroke="#000" stroke-width="3.9" stroke-linecap="round"/>
<line x1="301.62" y1="608.2" x2="301.62" y2="564.4" stroke="#000" stroke-width="3.9" stroke-linecap="round"/>
<line x1="293.83" y1="608.2" x2="293.83" y2="564.4" stroke="#000" stroke-width="3.9" stroke-linecap="round"/>
<line x1="286.04" y1="608.2" x2="286.04" y2="564.4" stroke="#000" stroke-width="3.9" stroke-linecap="round"/>
<line x1="278.25" y1="608.2" x2="278.25" y2="564.4" stroke="#000" stroke-width="3.9" stroke-linecap="round"/>
<line x1="270.46" y1="608.2" x2="270.46" y2="564.4" stroke="#000" stroke-width="3.9" stroke-linecap="round"/>
<line x1="262.67" y1="608.2" x2="262.67" y2="564.4" stroke="#000" stroke-width="3.9" stroke-linecap="round"/>
<line x1="254.88" y1="608.2" x2="254.88" y2="564.4" stroke="#000" stroke-width="3.9" stroke-linecap="round"/>
<line x1="247.09" y1="608.2" x2="247.09" y2="564.4" stroke="#000" stroke-width="3.9" stroke-linecap="round"/>
<line x1="239.3" y1="608.2" x2="239.3" y2="564.4" stroke="#000" stroke-width="3.9" stroke-linecap="round"/>
<polygon points="529.2,231.7 529.2,234.5 491.8,234.5 491.8,231.7" fill="#fff"/>
<polygon points="529.2,239.5 529.2,242.3 491.8,242.3 491.8,239.5" fill="#fff"/>
<polygon points="529.2,247.3 529.2,250.1 491.8,250.1 491.8,247.3" fill="#fff"/>
<polygon points="529.2,255.1 529.2,257.9 491.8,257.9 491.8,255.1" fill="#fff"/>
<polygon points="529.2,262.9 529.2,265.7 491.8,265.7 491.8,262.9" fill="#fff"/>
<polygon points="529.2,270.7 529.2,273.5 491.8,273.5 491.8,270.7" fill="#fff"/>
<polygon points="529.2,278.5 529.2,281.3 491.8,281.3 491.8,278.5" fill="#fff"/>
<polygon points="529.2,286.3 529.2,289.1 491.8,289.1 491.8,286.3" fill="#fff"/>
<polygon points="529.2,294.1 529.2,296.9 491.8,296.9 491.8,294.1" fill="#fff"/>
<polygon points="529.2,301.9 529.2,304.7 491.8,304.7 491.8,301.9" fill="#fff"/>
<polygon points="529.2,309.7 529.2,312.5 491.8,312.5 491.8,309.7" fill="#fff"/>
<polygon points="529.2,317.5 529.2,320.3 491.8,320.3 491.8,317.5" fill="#fff"/>
<polygon points="529.2,325.3 529.2,328.1 491.8,328.1 491.8,325.3" fill="#fff"/>
<polygon points="529.2,333.1 529.2,335.9 491.8,335.9 491.8,333.1" fill="#fff"/>
<polygon points="529.2,340.9 529.2,343.7 491.8,343.7 491.8,340.9" fill="#fff"/>
<polygon points="529.2,348.7 529.2,351.5 491.8,351.5 491.8,348.7" fill="#fff"/>
<polygon points="529.2,356.5 529.2,359.3 491.8,359.3 491.8,356.5" fill="#fff"/>
<polygon points="529.2,364.3 529.2,367.1 491.8,367.1 491.8,364.3" fill="#fff"/>
<polygon points="529.2,372.1 529.2,374.9 491.8,374.9 491.8,372.1" fill="#fff"/>
<polygon points="529.2,379.9 529.2,382.7 491.8,382.7 491.8,379.9" fill="#fff"/>
<polygon points="529.2,387.7 529.2,390.5 491.8,390.5 491.8,387.7" fill="#fff"/>
<polygon points="529.2,395.5 529.2,398.3 491.8,398.3 491.8,395.5" fill="#fff"/>
<polygon points="529.2,403.74 529.2,406.54 491.8,406.54 491.8,403.74" fill="#fff"/>
<polygon points="529.13,412.9 529.02,415.97 491.66,414.45 491.74,411.93" fill="#fff"/>
<polygon points="528.66,422.42 528.41,425.49 491.16,422.25 491.36,419.73" fill="#fff"/>
<polygon points="527.75,431.92 527.36,434.98 490.3,430 490.61,427.51" fill="#fff"/>
<polygon points="526.4,441.37 525.87,444.42 489.08,437.7 489.51,435.23" fill="#fff"/>
<polygon points="524.6,450.77 523.93,453.79 487.5,445.31 488.05,442.87" fill="#fff"/>
<polygon points="522.36,460.07 521.54,463.06 485.56,452.85 486.22,450.43" fill="#fff"/>
<polygon points="519.67,469.26 518.71,472.2 483.26,460.28 484.04,457.9" fill="#fff"/>
<polygon points="516.54,478.32 515.43,481.21 480.6,467.58 481.5,465.24" fill="#fff"/>
<polygon points="512.97,487.21 511.72,490.05 477.6,474.72 478.61,472.44" fill="#fff"/>
<polygon points="508.96,495.93 507.58,498.7 474.25,481.73 475.37,479.48" fill="#fff"/>
<polygon points="504.53,504.44 503.01,507.14 470.56,488.54 471.79,486.36" fill="#fff"/>
<polygon points="499.68,512.73 498.03,515.35 466.54,495.17 467.88,493.05" fill="#fff"/>
<polygon points="494.43,520.76 492.66,523.3 462.2,501.59 463.64,499.54" fill="#fff"/>
<polygon points="488.79,528.53 486.88,530.98 457.55,507.78 459.08,505.81" fill="#fff"/>
<polygon points="482.76,536.02 480.75,538.36 452.59,513.74 454.23,511.84" fill="#fff"/>
<polygon points="476.38,543.18 474.24,545.43 447.35,519.43 449.07,517.63" fill="#fff"/>
<polygon points="469.64,550.03 467.39,552.17 441.83,524.87 443.65,523.14" fill="#fff"/>
<polygon points="462.57,556.53 460.21,558.56 436.05,530.01 437.94,528.39" fill="#fff"/>
<polygon points="455.18,562.68 452.73,564.58 430.02,534.87 432,533.33" fill="#fff"/>
<polygon points="447.5,568.44 444.96,570.22 423.75,539.42 425.8,537.98" fill="#fff"/>
<polygon points="439.54,573.82 436.92,575.47 417.26,543.65 419.38,542.32" fill="#fff"/>
<polygon points="431.33,578.8 428.63,580.31 410.58,547.56 412.76,546.33" fill="#fff"/>
<polygon points="422.89,583.35 420.12,584.74 403.69,551.13 405.93,550.02" fill="#fff"/>
<polygon points="414.23,587.49 411.4,588.73 396.64,554.37 398.93,553.36" fill="#fff"/>
<polygon points="405.38,591.2 402.49,592.3 389.44,557.25 391.78,556.36" fill="#fff"/>
<polygon points="396.38,594.47 393.44,595.43 382.1,559.79 384.48,559.01" fill="#fff"/>
<polygon points="387.23,597.29 384.26,598.11 374.62,561.97 377.05,561.31" fill="#fff"/>
<polygon points="377.97,599.68 374.96,600.35 367.05,563.8 369.51,563.25" fill="#fff"/>
<polygon points="368.6,601.62 365.57,602.15 359.4,565.26 361.89,564.83" fill="#fff"/>
<polygon points="359.18,603.11 356.12,603.5 351.68,566.37 354.18,566.05" fill="#fff"/>
<polygon points="349.71,604.17 346.64,604.42 343.89,567.12 346.4,566.92" fill="#fff"/>
<polygon points="340.21,604.8 337.15,604.91 336.06,567.53 338.59,567.43" fill="#fff"/>
<polygon points="330.73,605 327.93,605 327.93,567.6 330.73,567.6" fill="#fff"/>
<polygon points="322.49,605 319.7,605 319.7,567.6 322.49,567.6" fill="#fff"/>
<polygon points="314.7,605 311.91,605 311.91,567.6 314.7,567.6" fill="#fff"/>
<polygon points="306.91,605 304.12,605 304.12,567.6 306.91,567.6" fill="#fff"/>
<polygon points="299.12,605 296.33,605 296.33,567.6 299.12,567.6" fill="#fff"/>
<polygon points="291.33,605 288.54,605 288.54,567.6 291.33,567.6" fill="#fff"/>
<polygon points="283.54,605 280.75,605 280.75,567.6 283.54,567.6" fill="#fff"/>
<polygon points="275.75,605 272.96,605 272.96,567.6 275.75,567.6" fill="#fff"/>
<polygon points="267.96,605 265.17,605 265.17,567.6 267.96,567.6" fill="#fff"/>
<polygon points="260.17,605 257.38,605 257.38,567.6 260.17,567.6" fill="#fff"/>
<polygon points="252.38,605 249.59,605 249.59,567.6 252.38,567.6" fill="#fff"/>
<polygon points="244.59,605 241.8,605 241.8,567.6 244.59,567.6" fill="#fff"/>
<line x1="531.8" y1="229.2" x2="489.2" y2="229.2" stroke="#fff" stroke-width="1.4" stroke-linecap="round"/>
<line x1="531.8" y1="237" x2="489.2" y2="237" stroke="#fff" stroke-width="1.4" stroke-linecap="round"/>
<line x1="531.8" y1="244.8" x2="489.2" y2="244.8" stroke="#fff" stroke-width="1.4" stroke-linecap="round"/>
<line x1="531.8" y1="252.6" x2="489.2" y2="252.6" stroke="#fff" stroke-width="1.4" stroke-linecap="round"/>
<line x1="531.8" y1="260.4" x2="489.2" y2="260.4" stroke="#fff" stroke-width="1.4" stroke-linecap="round"/>
<line x1="531.8" y1="268.2" x2="489.2" y2="268.2" stroke="#fff" stroke-width="1.4" stroke-linecap="round"/>
<line x1="531.8" y1="276" x2="489.2" y2="276" stroke="#fff" stroke-width="1.4" stroke-linecap="round"/>
<line x1="531.8" y1="283.8" x2="489.2" y2="283.8" stroke="#fff" stroke-width="1.4" stroke-linecap="round"/>
<line x1="531.8" y1="291.6" x2="489.2" y2="291.6" stroke="#fff" stroke-width="1.4" stroke-linecap="round"/>
<line x1="531.8" y1="299.4" x2="489.2" y2="299.4" stroke="#fff" stroke-width="1.4" stroke-linecap="round"/>
<line x1="531.8" y1="307.2" x2="489.2" y2="307.2" stroke="#fff" stroke-width="1.4" stroke-linecap="round"/>
<line x1="531.8" y1="315" x2="489.2" y2="315" stroke="#fff" stroke-width="1.4" stroke-linecap="round"/>
<line x1="531.8" y1="322.8" x2="489.2" y2="322.8" stroke="#fff" stroke-width="1.4" stroke-linecap="round"/>
<line x1="531.8" y1="330.6" x2="489.2" y2="330.6" stroke="#fff" stroke-width="1.4" stroke-linecap="round"/>
<line x1="531.8" y1="338.4" x2="489.2" y2="338.4" stroke="#fff" stroke-width="1.4" stroke-linecap="round"/>
<line x1="531.8" y1="346.2" x2="489.2" y2="346.2" stroke="#fff" stroke-width="1.4" stroke-linecap="round"/>
<line x1="531.8" y1="354" x2="489.2" y2="354" stroke="#fff" stroke-width="1.4" stroke-linecap="round"/>
<line x1="531.8" y1="361.8" x2="489.2" y2="361.8" stroke="#fff" stroke-width="1.4" stroke-linecap="round"/>
<line x1="531.8" y1="369.6" x2="489.2" y2="369.6" stroke="#fff" stroke-width="1.4" stroke-linecap="round"/>
<line x1="531.8" y1="377.4" x2="489.2" y2="377.4" stroke="#fff" stroke-width="1.4" stroke-linecap="round"/>
<line x1="531.8" y1="385.2" x2="489.2" y2="385.2" stroke="#fff" stroke-width="1.4" stroke-linecap="round"/>
<line x1="531.8" y1="393" x2="489.2" y2="393" stroke="#fff" stroke-width="1.4" stroke-linecap="round"/>
<line x1="531.8" y1="400.8" x2="489.2" y2="400.8" stroke="#fff" stroke-width="1.4" stroke-linecap="round"/>
<line x1="531.79" y1="409.72" x2="489.19" y2="409.24" stroke="#fff" stroke-width="1.4" stroke-linecap="round"/>
<line x1="531.46" y1="419.35" x2="488.93" y2="416.94" stroke="#fff" stroke-width="1.4" stroke-linecap="round"/>
<line x1="530.7" y1="428.97" x2="488.32" y2="424.61" stroke="#fff" stroke-width="1.4" stroke-linecap="round"/>
<line x1="529.48" y1="438.57" x2="487.35" y2="432.23" stroke="#fff" stroke-width="1.4" stroke-linecap="round"/>
<line x1="527.81" y1="448.1" x2="486.03" y2="439.79" stroke="#fff" stroke-width="1.4" stroke-linecap="round"/>
<line x1="525.69" y1="457.56" x2="484.36" y2="447.26" stroke="#fff" stroke-width="1.4" stroke-linecap="round"/>
<line x1="523.12" y1="466.91" x2="482.33" y2="454.64" stroke="#fff" stroke-width="1.4" stroke-linecap="round"/>
<line x1="520.1" y1="476.13" x2="479.95" y2="461.9" stroke="#fff" stroke-width="1.4" stroke-linecap="round"/>
<line x1="516.63" y1="485.2" x2="477.22" y2="469.03" stroke="#fff" stroke-width="1.4" stroke-linecap="round"/>
<line x1="512.72" y1="494.11" x2="474.15" y2="476.01" stroke="#fff" stroke-width="1.4" stroke-linecap="round"/>
<line x1="508.38" y1="502.8" x2="470.74" y2="482.84" stroke="#fff" stroke-width="1.4" stroke-linecap="round"/>
<line x1="503.61" y1="511.27" x2="467" y2="489.49" stroke="#fff" stroke-width="1.4" stroke-linecap="round"/>
<line x1="498.42" y1="519.52" x2="462.95" y2="495.92" stroke="#fff" stroke-width="1.4" stroke-linecap="round"/>
<line x1="492.83" y1="527.48" x2="458.57" y2="502.17" stroke="#fff" stroke-width="1.4" stroke-linecap="round"/>
<line x1="486.86" y1="535.16" x2="453.89" y2="508.18" stroke="#fff" stroke-width="1.4" stroke-linecap="round"/>
<line x1="480.51" y1="542.54" x2="448.93" y2="513.95" stroke="#fff" stroke-width="1.4" stroke-linecap="round"/>
<line x1="473.8" y1="549.59" x2="443.67" y2="519.47" stroke="#fff" stroke-width="1.4" stroke-linecap="round"/>
<line x1="466.74" y1="556.3" x2="438.16" y2="524.71" stroke="#fff" stroke-width="1.4" stroke-linecap="round"/>
<line x1="459.37" y1="562.65" x2="432.39" y2="529.68" stroke="#fff" stroke-width="1.4" stroke-linecap="round"/>
<line x1="451.68" y1="568.62" x2="426.37" y2="534.36" stroke="#fff" stroke-width="1.4" stroke-linecap="round"/>
<line x1="443.71" y1="574.2" x2="420.13" y2="538.73" stroke="#fff" stroke-width="1.4" stroke-linecap="round"/>
<line x1="435.47" y1="579.39" x2="413.69" y2="542.78" stroke="#fff" stroke-width="1.4" stroke-linecap="round"/>
<line x1="426.99" y1="584.16" x2="407.05" y2="546.51" stroke="#fff" stroke-width="1.4" stroke-linecap="round"/>
<line x1="418.29" y1="588.49" x2="400.22" y2="549.91" stroke="#fff" stroke-width="1.4" stroke-linecap="round"/>
<line x1="409.39" y1="592.4" x2="393.23" y2="552.98" stroke="#fff" stroke-width="1.4" stroke-linecap="round"/>
<line x1="400.32" y1="595.86" x2="386.09" y2="555.7" stroke="#fff" stroke-width="1.4" stroke-linecap="round"/>
<line x1="391.1" y1="598.87" x2="378.82" y2="558.08" stroke="#fff" stroke-width="1.4" stroke-linecap="round"/>
<line x1="381.74" y1="601.44" x2="371.45" y2="560.1" stroke="#fff" stroke-width="1.4" stroke-linecap="round"/>
<line x1="372.29" y1="603.56" x2="363.97" y2="561.78" stroke="#fff" stroke-width="1.4" stroke-linecap="round"/>
<line x1="362.77" y1="605.23" x2="356.41" y2="563.1" stroke="#fff" stroke-width="1.4" stroke-linecap="round"/>
<line x1="353.2" y1="606.45" x2="348.76" y2="564.08" stroke="#fff" stroke-width="1.4" stroke-linecap="round"/>
<line x1="343.59" y1="607.23" x2="341.08" y2="564.7" stroke="#fff" stroke-width="1.4" stroke-linecap="round"/>
<line x1="333.97" y1="607.58" x2="333.36" y2="564.98" stroke="#fff" stroke-width="1.4" stroke-linecap="round"/>
<line x1="324.99" y1="607.6" x2="324.99" y2="565" stroke="#fff" stroke-width="1.4" stroke-linecap="round"/>
<line x1="317.2" y1="607.6" x2="317.2" y2="565" stroke="#fff" stroke-width="1.4" stroke-linecap="round"/>
<line x1="309.41" y1="607.6" x2="309.41" y2="565" stroke="#fff" stroke-width="1.4" stroke-linecap="round"/>
<line x1="301.62" y1="607.6" x2="301.62" y2="565" stroke="#fff" stroke-width="1.4" stroke-linecap="round"/>
<line x1="293.83" y1="607.6" x2="293.83" y2="565" stroke="#fff" stroke-width="1.4" stroke-linecap="round"/>
<line x1="286.04" y1="607.6" x2="286.04" y2="565" stroke="#fff" stroke-width="1.4" stroke-linecap="round"/>
<line x1="278.25" y1="607.6" x2="278.25" y2="565" stroke="#fff" stroke-width="1.4" stroke-linecap="round"/>
<line x1="270.46" y1="607.6" x2="270.46" y2="565" stroke="#fff" stroke-width="1.4" stroke-linecap="round"/>
<line x1="262.67" y1="607.6" x2="262.67" y2="565" stroke="#fff" stroke-width="1.4" stroke-linecap="round"/>
<line x1="254.88" y1="607.6" x2="254.88" y2="565" stroke="#fff" stroke-width="1.4" stroke-linecap="round"/>
<line x1="247.09" y1="607.6" x2="247.09" y2="565" stroke="#fff" stroke-width="1.4" stroke-linecap="round"/>
<line x1="239.3" y1="607.6" x2="239.3" y2="565" stroke="#fff" stroke-width="1.4" stroke-linecap="round"/>
<line x1="510.5" y1="91" x2="510.5" y2="440" stroke="#000" stroke-width="1.1" stroke-dasharray="5.2 3.5 1.2 3.5"/>
<line x1="238" y1="586.4" x2="420" y2="586.4" stroke="#000" stroke-width="0.9" stroke-dasharray="5.2 3.5 1.2 3.5"/>
<line x1="424" y1="586.4" x2="480" y2="586.4" stroke="#000" stroke-width="1.1" stroke-dasharray="5.2 3.5 1.2 3.5"/>
<path d="M53.5,551.6 L183,551.6 Q185.6,551.6 185.6,554.4 Q185.6,557.6 183,557.6 L168,557.6 L168,560.5 L202,560.5 L202,613 L186.4,603.9 L53,603.9 L53,597.3 L68.6,597.3 L68.6,557.6 L54,557.6 Q51.2,557.6 51.2,554.6 Q51.2,551.6 53.5,551.6 Z" fill="none" stroke="#c4c4c4" stroke-width="3.1" stroke-linejoin="round"/>
<path d="M53.5,551.6 L183,551.6 Q185.6,551.6 185.6,554.4 Q185.6,557.6 183,557.6 L168,557.6 L168,560.5 L202,560.5 L202,613 L186.4,603.9 L53,603.9 L53,597.3 L68.6,597.3 L68.6,557.6 L54,557.6 Q51.2,557.6 51.2,554.6 Q51.2,551.6 53.5,551.6 Z" fill="#fff" stroke="#000" stroke-width="1.5" stroke-linejoin="round"/>
<line x1="68.6" y1="597.8" x2="186.4" y2="597.8" stroke="#000" stroke-width="1.3"/>
<line x1="186.4" y1="597.8" x2="186.4" y2="603.9" stroke="#000" stroke-width="1.3"/>
<line x1="68.8" y1="557" x2="68.8" y2="598" stroke="#000" stroke-width="1.9"/>
<path d="M55.2,545.3 L180,545.3 L180,551.4 L55.2,551.4 Z" fill="none" stroke="#c4c4c4" stroke-width="2.9000000000000004" stroke-linejoin="round"/>
<path d="M55.2,545.3 L180,545.3 L180,551.4 L55.2,551.4 Z" fill="#525252" stroke="#000" stroke-width="1.3" stroke-linejoin="round"/>
<path d="M201.9,551 L230.3,551 L235.5,556.2 L235.5,617.9 L230.3,623.1 L201.9,623.1 Z" fill="none" stroke="#c4c4c4" stroke-width="3.3" stroke-linejoin="round"/>
<path d="M201.9,551 L230.3,551 L235.5,556.2 L235.5,617.9 L230.3,623.1 L201.9,623.1 Z" fill="#fff" stroke="#000" stroke-width="1.7" stroke-linejoin="round"/>
<path d="M209.5,553.4 L232.9,553.4 L232.9,620.7 L209.5,620.7 Z" fill="none" stroke="#000" stroke-width="2.1"/>
<path d="M209.5,559.95 L228.7,559.95 A2.45,2.45 0 0 1 228.7,564.85 L209.5,564.85" fill="#fff" stroke="#000" stroke-width="2.3"/>
<path d="M209.5,583.85 L228.7,583.85 A2.45,2.45 0 0 1 228.7,588.75 L209.5,588.75" fill="#fff" stroke="#000" stroke-width="2.3"/>
<path d="M209.5,607.85 L228.7,607.85 A2.45,2.45 0 0 1 228.7,612.75 L209.5,612.75" fill="#fff" stroke="#000" stroke-width="2.3"/>
<line x1="118.7" y1="537" x2="118.7" y2="660" stroke="#000" stroke-width="1.1" stroke-dasharray="5.2 3.5 1.2 3.5"/>
<line x1="168" y1="586.4" x2="238" y2="586.4" stroke="#000" stroke-width="1.1" stroke-dasharray="5.2 3.5 1.2 3.5"/>
<line x1="51.6" y1="488" x2="51.6" y2="549" stroke="#c8c8c8" stroke-width="1.4" />
<line x1="182.8" y1="488" x2="182.8" y2="549" stroke="#c8c8c8" stroke-width="1.4" />
<line x1="51.6" y1="495.3" x2="182.8" y2="495.3" stroke="#c8c8c8" stroke-width="1.4" />
<polygon points="51.6,495.3 62.4,491.2 62.4,499.4" fill="#000" stroke="#c4c4c4" stroke-width="1.1" stroke-linejoin="miter"/>
<polygon points="182.8,495.3 172,499.4 172,491.2" fill="#000" stroke="#c4c4c4" stroke-width="1.1" stroke-linejoin="miter"/>
<text x="89.5" y="491.2" font-size="29.5" text-anchor="start" textLength="54" lengthAdjust="spacingAndGlyphs" class="t">Ø74</text>
<line x1="74.2" y1="521" x2="74.2" y2="545.5" stroke="#c8c8c8" stroke-width="1.4" />
<line x1="160.9" y1="521" x2="160.9" y2="545.5" stroke="#c8c8c8" stroke-width="1.4" />
<line x1="60" y1="526" x2="176" y2="526" stroke="#c8c8c8" stroke-width="1.4" />
<polygon points="74.2,526 63.4,530.1 63.4,521.9" fill="#000" stroke="#c4c4c4" stroke-width="1.1" stroke-linejoin="miter"/>
<polygon points="160.9,526 171.7,521.9 171.7,530.1" fill="#000" stroke="#c4c4c4" stroke-width="1.1" stroke-linejoin="miter"/>
<text x="89.5" y="522" font-size="29.5" text-anchor="start" textLength="52.5" lengthAdjust="spacingAndGlyphs" class="t">Ø50</text>
<line x1="20" y1="551.4" x2="52" y2="551.4" stroke="#c8c8c8" stroke-width="1.4" />
<line x1="21" y1="603.3" x2="52" y2="603.3" stroke="#c8c8c8" stroke-width="1.4" />
<line x1="24.9" y1="551.4" x2="24.9" y2="603.3" stroke="#c8c8c8" stroke-width="1.4" />
<polygon points="24.9,551.6 29,562.4 20.8,562.4" fill="#000" stroke="#c4c4c4" stroke-width="1.1" stroke-linejoin="miter"/>
<polygon points="24.9,603.1 20.8,592.3 29,592.3" fill="#000" stroke="#c4c4c4" stroke-width="1.1" stroke-linejoin="miter"/>
<text x="20.8" y="590.5" font-size="29.5" text-anchor="start" textLength="31" lengthAdjust="spacingAndGlyphs" transform="rotate(-90 20.8 590.5)" class="t">29</text>
<line x1="263" y1="479.4" x2="263" y2="562.5" stroke="#c8c8c8" stroke-width="1.4" />
<line x1="263" y1="610.5" x2="263" y2="621" stroke="#c8c8c8" stroke-width="1.4" />
<line x1="263" y1="562" x2="263" y2="611" stroke="#000" stroke-width="1.2"/>
<polygon points="263,562.5 258.9,551.7 267.1,551.7" fill="#000" stroke="#c4c4c4" stroke-width="1.1" stroke-linejoin="miter"/>
<polygon points="263,610.5 267.1,621.3 258.9,621.3" fill="#000" stroke="#c4c4c4" stroke-width="1.1" stroke-linejoin="miter"/>
<text x="259.8" y="538.5" font-size="29.5" text-anchor="start" textLength="51" lengthAdjust="spacingAndGlyphs" transform="rotate(-90 259.8 538.5)" class="t">Ø25</text>
<line x1="118.75" y1="356" x2="118.75" y2="459" stroke="#c8c8c8" stroke-width="1.4" />
<line x1="119" y1="360.2" x2="487" y2="360.2" stroke="#c8c8c8" stroke-width="1.4" />
<polygon points="119,360.2 129.8,356.1 129.8,364.3" fill="#000" stroke="#c4c4c4" stroke-width="1.1" stroke-linejoin="miter"/>
<line x1="487" y1="360.2" x2="502" y2="360.2" stroke="#000" stroke-width="1.1"/>
<polygon points="510.2,360.2 500,356.6 500,363.8" fill="#000"/>
<text x="293" y="355.8" font-size="29.5" text-anchor="start" textLength="65.5" lengthAdjust="spacingAndGlyphs" class="t"><tspan dy="-2.3">(</tspan><tspan dy="2.3">222</tspan><tspan dy="-2.3">)</tspan></text>
<line x1="616.3" y1="96" x2="616.3" y2="587" stroke="#c8c8c8" stroke-width="1.4" />
<line x1="547" y1="587.3" x2="622" y2="587.3" stroke="#c8c8c8" stroke-width="1.4" />
<polygon points="616.3,95.8 620.4,106.6 612.2,106.6" fill="#000" stroke="#c4c4c4" stroke-width="1.1" stroke-linejoin="miter"/>
<polygon points="616.3,587.3 612.2,576.5 620.4,576.5" fill="#000" stroke="#c4c4c4" stroke-width="1.1" stroke-linejoin="miter"/>
<text x="612.3" y="356.5" font-size="29.5" text-anchor="start" textLength="64" lengthAdjust="spacingAndGlyphs" transform="rotate(-90 612.3 356.5)" class="t"><tspan dy="-2.3">(</tspan><tspan dy="2.3">248</tspan><tspan dy="-2.3">)</tspan></text>
<path d="M575.3,96 L575.3,447.4 C575.3,634.2 480.6,643.1 323.9,643.1 L119,643.1" fill="none" stroke="#c8c8c8" stroke-width="1.4"/>
<polygon points="575.3,95.8 579.4,106.6 571.2,106.6" fill="#000" stroke="#c4c4c4" stroke-width="1.1" stroke-linejoin="miter"/>
<polygon points="118.5,643.2 129.3,639.1 129.3,647.3" fill="#000" stroke="#c4c4c4" stroke-width="1.1" stroke-linejoin="miter"/>
<text x="498.5" y="615.5" font-size="30.5" text-anchor="start" textLength="45.5" lengthAdjust="spacingAndGlyphs" transform="rotate(-41 498.5 615.5)" class="t">418</text>
<path d="M150,702.6 L202.2,702.6 L202.2,755 L150,755 Z" fill="none" stroke="#c4c4c4" stroke-width="3.1" stroke-linejoin="round"/>
<path d="M150,702.6 L202.2,702.6 L202.2,755 L150,755 Z" fill="#fff" stroke="#000" stroke-width="1.5" stroke-linejoin="round"/>
<circle cx="118.4" cy="728.5" r="65.7" fill="none" stroke="#c4c4c4" stroke-width="2.4"/>
<circle cx="118.4" cy="728.5" r="64.9" fill="#fff" stroke="#000" stroke-width="1.6"/>
<circle cx="118.4" cy="728.5" r="59.8" fill="#525252" stroke="#000" stroke-width="1.5"/>
<circle cx="118.4" cy="728.5" r="42.6" fill="#fff" stroke="#000" stroke-width="1.5"/>
<circle cx="118.4" cy="728.5" r="40.2" fill="#fff" stroke="#000" stroke-width="1.2"/>
<path d="M176,702.6 L202,702.6 L202,755 L176,755" fill="#fff" stroke="none"/>
<path d="M202.6,692.8 L235.8,692.8 L237.3,694.3 L237.3,762 L232.8,766.5 L202.6,766.5 Z" fill="none" stroke="#c4c4c4" stroke-width="3.3" stroke-linejoin="round"/>
<path d="M202.6,692.8 L235.8,692.8 L237.3,694.3 L237.3,762 L232.8,766.5 L202.6,766.5 Z" fill="#fff" stroke="#000" stroke-width="1.7" stroke-linejoin="round"/>
<path d="M210.2,695.2 L234.7,695.2 L234.7,764.1 L210.2,764.1 Z" fill="none" stroke="#000" stroke-width="2.1"/>
<path d="M210.2,702.25 L230.5,702.25 A2.45,2.45 0 0 1 230.5,707.15 L210.2,707.15" fill="#fff" stroke="#000" stroke-width="2.3"/>
<path d="M210.2,726.05 L230.5,726.05 A2.45,2.45 0 0 1 230.5,730.95 L210.2,730.95" fill="#fff" stroke="#000" stroke-width="2.3"/>
<path d="M210.2,749.95 L230.5,749.95 A2.45,2.45 0 0 1 230.5,754.85 L210.2,754.85" fill="#fff" stroke="#000" stroke-width="2.3"/>
<path d="M231,693.5 L236.6,693.5 L236.6,698.5 Z" fill="#000"/>
<path d="M237.3,703.5 L241,703.5 L241,752 L237.3,752 Z" fill="none" stroke="#c4c4c4" stroke-width="2.8" stroke-linejoin="round"/>
<path d="M237.3,703.5 L241,703.5 L241,752 L237.3,752 Z" fill="#fff" stroke="#000" stroke-width="1.2" stroke-linejoin="round"/>
<line x1="242.1" y1="749.03" x2="242.1" y2="706.77" stroke="#bdbdbd" stroke-width="5.9" stroke-linecap="round"/>
<line x1="249.83" y1="749.03" x2="249.83" y2="706.77" stroke="#bdbdbd" stroke-width="5.9" stroke-linecap="round"/>
<line x1="257.56" y1="749.03" x2="257.56" y2="706.77" stroke="#bdbdbd" stroke-width="5.9" stroke-linecap="round"/>
<line x1="265.29" y1="749.03" x2="265.29" y2="706.77" stroke="#bdbdbd" stroke-width="5.9" stroke-linecap="round"/>
<line x1="273.02" y1="749.03" x2="273.02" y2="706.77" stroke="#bdbdbd" stroke-width="5.9" stroke-linecap="round"/>
<line x1="280.75" y1="749.03" x2="280.75" y2="706.77" stroke="#bdbdbd" stroke-width="5.9" stroke-linecap="round"/>
<line x1="288.48" y1="749.03" x2="288.48" y2="706.77" stroke="#bdbdbd" stroke-width="5.9" stroke-linecap="round"/>
<line x1="296.21" y1="749.03" x2="296.21" y2="706.77" stroke="#bdbdbd" stroke-width="5.9" stroke-linecap="round"/>
<line x1="303.94" y1="749.03" x2="303.94" y2="706.77" stroke="#bdbdbd" stroke-width="5.9" stroke-linecap="round"/>
<line x1="311.67" y1="749.03" x2="311.67" y2="706.77" stroke="#bdbdbd" stroke-width="5.9" stroke-linecap="round"/>
<line x1="319.4" y1="749.03" x2="319.4" y2="706.77" stroke="#bdbdbd" stroke-width="5.9" stroke-linecap="round"/>
<line x1="327.13" y1="749.03" x2="327.13" y2="706.77" stroke="#bdbdbd" stroke-width="5.9" stroke-linecap="round"/>
<line x1="334.86" y1="749.03" x2="334.86" y2="706.77" stroke="#bdbdbd" stroke-width="5.9" stroke-linecap="round"/>
<line x1="342.59" y1="749.03" x2="342.59" y2="706.77" stroke="#bdbdbd" stroke-width="5.9" stroke-linecap="round"/>
<line x1="350.32" y1="749.03" x2="350.32" y2="706.77" stroke="#bdbdbd" stroke-width="5.9" stroke-linecap="round"/>
<line x1="358.05" y1="749.03" x2="358.05" y2="706.77" stroke="#bdbdbd" stroke-width="5.9" stroke-linecap="round"/>
<line x1="365.78" y1="749.03" x2="365.78" y2="706.77" stroke="#bdbdbd" stroke-width="5.9" stroke-linecap="round"/>
<line x1="373.51" y1="749.03" x2="373.51" y2="706.77" stroke="#bdbdbd" stroke-width="5.9" stroke-linecap="round"/>
<line x1="381.24" y1="749.03" x2="381.24" y2="706.77" stroke="#bdbdbd" stroke-width="5.9" stroke-linecap="round"/>
<line x1="388.97" y1="749.03" x2="388.97" y2="706.77" stroke="#bdbdbd" stroke-width="5.9" stroke-linecap="round"/>
<line x1="396.7" y1="749.03" x2="396.7" y2="706.77" stroke="#bdbdbd" stroke-width="5.9" stroke-linecap="round"/>
<line x1="404.43" y1="749.03" x2="404.43" y2="706.77" stroke="#bdbdbd" stroke-width="5.9" stroke-linecap="round"/>
<line x1="412.16" y1="749.03" x2="412.16" y2="706.77" stroke="#bdbdbd" stroke-width="5.9" stroke-linecap="round"/>
<line x1="419.89" y1="749.03" x2="419.89" y2="706.77" stroke="#bdbdbd" stroke-width="5.9" stroke-linecap="round"/>
<line x1="427.62" y1="749.03" x2="427.62" y2="706.77" stroke="#bdbdbd" stroke-width="5.9" stroke-linecap="round"/>
<line x1="435.35" y1="749.03" x2="435.35" y2="706.77" stroke="#bdbdbd" stroke-width="5.9" stroke-linecap="round"/>
<line x1="443.08" y1="749.03" x2="443.08" y2="706.77" stroke="#bdbdbd" stroke-width="5.9" stroke-linecap="round"/>
<polygon points="242.1,747.78 249.83,747.78 249.83,708.02 242.1,708.02" fill="#000" stroke="#bdbdbd" stroke-width="2"/>
<polygon points="249.83,747.78 257.56,747.78 257.56,708.02 249.83,708.02" fill="#000" stroke="#bdbdbd" stroke-width="2"/>
<polygon points="257.56,747.78 265.29,747.78 265.29,708.02 257.56,708.02" fill="#000" stroke="#bdbdbd" stroke-width="2"/>
<polygon points="265.29,747.78 273.02,747.78 273.02,708.02 265.29,708.02" fill="#000" stroke="#bdbdbd" stroke-width="2"/>
<polygon points="273.02,747.78 280.75,747.78 280.75,708.02 273.02,708.02" fill="#000" stroke="#bdbdbd" stroke-width="2"/>
<polygon points="280.75,747.78 288.48,747.78 288.48,708.02 280.75,708.02" fill="#000" stroke="#bdbdbd" stroke-width="2"/>
<polygon points="288.48,747.78 296.21,747.78 296.21,708.02 288.48,708.02" fill="#000" stroke="#bdbdbd" stroke-width="2"/>
<polygon points="296.21,747.78 303.94,747.78 303.94,708.02 296.21,708.02" fill="#000" stroke="#bdbdbd" stroke-width="2"/>
<polygon points="303.94,747.78 311.67,747.78 311.67,708.02 303.94,708.02" fill="#000" stroke="#bdbdbd" stroke-width="2"/>
<polygon points="311.67,747.78 319.4,747.78 319.4,708.02 311.67,708.02" fill="#000" stroke="#bdbdbd" stroke-width="2"/>
<polygon points="319.4,747.78 327.13,747.78 327.13,708.02 319.4,708.02" fill="#000" stroke="#bdbdbd" stroke-width="2"/>
<polygon points="327.13,747.78 334.86,747.78 334.86,708.02 327.13,708.02" fill="#000" stroke="#bdbdbd" stroke-width="2"/>
<polygon points="334.86,747.78 342.59,747.78 342.59,708.02 334.86,708.02" fill="#000" stroke="#bdbdbd" stroke-width="2"/>
<polygon points="342.59,747.78 350.32,747.78 350.32,708.02 342.59,708.02" fill="#000" stroke="#bdbdbd" stroke-width="2"/>
<polygon points="350.32,747.78 358.05,747.78 358.05,708.02 350.32,708.02" fill="#000" stroke="#bdbdbd" stroke-width="2"/>
<polygon points="358.05,747.78 365.78,747.78 365.78,708.02 358.05,708.02" fill="#000" stroke="#bdbdbd" stroke-width="2"/>
<polygon points="365.78,747.78 373.51,747.78 373.51,708.02 365.78,708.02" fill="#000" stroke="#bdbdbd" stroke-width="2"/>
<polygon points="373.51,747.78 381.24,747.78 381.24,708.02 373.51,708.02" fill="#000" stroke="#bdbdbd" stroke-width="2"/>
<polygon points="381.24,747.78 388.97,747.78 388.97,708.02 381.24,708.02" fill="#000" stroke="#bdbdbd" stroke-width="2"/>
<polygon points="388.97,747.78 396.7,747.78 396.7,708.02 388.97,708.02" fill="#000" stroke="#bdbdbd" stroke-width="2"/>
<polygon points="396.7,747.78 404.43,747.78 404.43,708.02 396.7,708.02" fill="#000" stroke="#bdbdbd" stroke-width="2"/>
<polygon points="404.43,747.78 412.16,747.78 412.16,708.02 404.43,708.02" fill="#000" stroke="#bdbdbd" stroke-width="2"/>
<polygon points="412.16,747.78 419.89,747.78 419.89,708.02 412.16,708.02" fill="#000" stroke="#bdbdbd" stroke-width="2"/>
<polygon points="419.89,747.78 427.62,747.78 427.62,708.02 419.89,708.02" fill="#000" stroke="#bdbdbd" stroke-width="2"/>
<polygon points="427.62,747.78 435.35,747.78 435.35,708.02 427.62,708.02" fill="#000" stroke="#bdbdbd" stroke-width="2"/>
<polygon points="435.35,747.78 443.08,747.78 443.08,708.02 435.35,708.02" fill="#000" stroke="#bdbdbd" stroke-width="2"/>
<polygon points="242.1,747.78 249.83,747.78 249.83,708.02 242.1,708.02" fill="#000"/>
<polygon points="249.83,747.78 257.56,747.78 257.56,708.02 249.83,708.02" fill="#000"/>
<polygon points="257.56,747.78 265.29,747.78 265.29,708.02 257.56,708.02" fill="#000"/>
<polygon points="265.29,747.78 273.02,747.78 273.02,708.02 265.29,708.02" fill="#000"/>
<polygon points="273.02,747.78 280.75,747.78 280.75,708.02 273.02,708.02" fill="#000"/>
<polygon points="280.75,747.78 288.48,747.78 288.48,708.02 280.75,708.02" fill="#000"/>
<polygon points="288.48,747.78 296.21,747.78 296.21,708.02 288.48,708.02" fill="#000"/>
<polygon points="296.21,747.78 303.94,747.78 303.94,708.02 296.21,708.02" fill="#000"/>
<polygon points="303.94,747.78 311.67,747.78 311.67,708.02 303.94,708.02" fill="#000"/>
<polygon points="311.67,747.78 319.4,747.78 319.4,708.02 311.67,708.02" fill="#000"/>
<polygon points="319.4,747.78 327.13,747.78 327.13,708.02 319.4,708.02" fill="#000"/>
<polygon points="327.13,747.78 334.86,747.78 334.86,708.02 327.13,708.02" fill="#000"/>
<polygon points="334.86,747.78 342.59,747.78 342.59,708.02 334.86,708.02" fill="#000"/>
<polygon points="342.59,747.78 350.32,747.78 350.32,708.02 342.59,708.02" fill="#000"/>
<polygon points="350.32,747.78 358.05,747.78 358.05,708.02 350.32,708.02" fill="#000"/>
<polygon points="358.05,747.78 365.78,747.78 365.78,708.02 358.05,708.02" fill="#000"/>
<polygon points="365.78,747.78 373.51,747.78 373.51,708.02 365.78,708.02" fill="#000"/>
<polygon points="373.51,747.78 381.24,747.78 381.24,708.02 373.51,708.02" fill="#000"/>
<polygon points="381.24,747.78 388.97,747.78 388.97,708.02 381.24,708.02" fill="#000"/>
<polygon points="388.97,747.78 396.7,747.78 396.7,708.02 388.97,708.02" fill="#000"/>
<polygon points="396.7,747.78 404.43,747.78 404.43,708.02 396.7,708.02" fill="#000"/>
<polygon points="404.43,747.78 412.16,747.78 412.16,708.02 404.43,708.02" fill="#000"/>
<polygon points="412.16,747.78 419.89,747.78 419.89,708.02 412.16,708.02" fill="#000"/>
<polygon points="419.89,747.78 427.62,747.78 427.62,708.02 419.89,708.02" fill="#000"/>
<polygon points="427.62,747.78 435.35,747.78 435.35,708.02 427.62,708.02" fill="#000"/>
<polygon points="435.35,747.78 443.08,747.78 443.08,708.02 435.35,708.02" fill="#000"/>
<line x1="242.1" y1="749.03" x2="242.1" y2="706.77" stroke="#000" stroke-width="3.9" stroke-linecap="round"/>
<line x1="249.83" y1="749.03" x2="249.83" y2="706.77" stroke="#000" stroke-width="3.9" stroke-linecap="round"/>
<line x1="257.56" y1="749.03" x2="257.56" y2="706.77" stroke="#000" stroke-width="3.9" stroke-linecap="round"/>
<line x1="265.29" y1="749.03" x2="265.29" y2="706.77" stroke="#000" stroke-width="3.9" stroke-linecap="round"/>
<line x1="273.02" y1="749.03" x2="273.02" y2="706.77" stroke="#000" stroke-width="3.9" stroke-linecap="round"/>
<line x1="280.75" y1="749.03" x2="280.75" y2="706.77" stroke="#000" stroke-width="3.9" stroke-linecap="round"/>
<line x1="288.48" y1="749.03" x2="288.48" y2="706.77" stroke="#000" stroke-width="3.9" stroke-linecap="round"/>
<line x1="296.21" y1="749.03" x2="296.21" y2="706.77" stroke="#000" stroke-width="3.9" stroke-linecap="round"/>
<line x1="303.94" y1="749.03" x2="303.94" y2="706.77" stroke="#000" stroke-width="3.9" stroke-linecap="round"/>
<line x1="311.67" y1="749.03" x2="311.67" y2="706.77" stroke="#000" stroke-width="3.9" stroke-linecap="round"/>
<line x1="319.4" y1="749.03" x2="319.4" y2="706.77" stroke="#000" stroke-width="3.9" stroke-linecap="round"/>
<line x1="327.13" y1="749.03" x2="327.13" y2="706.77" stroke="#000" stroke-width="3.9" stroke-linecap="round"/>
<line x1="334.86" y1="749.03" x2="334.86" y2="706.77" stroke="#000" stroke-width="3.9" stroke-linecap="round"/>
<line x1="342.59" y1="749.03" x2="342.59" y2="706.77" stroke="#000" stroke-width="3.9" stroke-linecap="round"/>
<line x1="350.32" y1="749.03" x2="350.32" y2="706.77" stroke="#000" stroke-width="3.9" stroke-linecap="round"/>
<line x1="358.05" y1="749.03" x2="358.05" y2="706.77" stroke="#000" stroke-width="3.9" stroke-linecap="round"/>
<line x1="365.78" y1="749.03" x2="365.78" y2="706.77" stroke="#000" stroke-width="3.9" stroke-linecap="round"/>
<line x1="373.51" y1="749.03" x2="373.51" y2="706.77" stroke="#000" stroke-width="3.9" stroke-linecap="round"/>
<line x1="381.24" y1="749.03" x2="381.24" y2="706.77" stroke="#000" stroke-width="3.9" stroke-linecap="round"/>
<line x1="388.97" y1="749.03" x2="388.97" y2="706.77" stroke="#000" stroke-width="3.9" stroke-linecap="round"/>
<line x1="396.7" y1="749.03" x2="396.7" y2="706.77" stroke="#000" stroke-width="3.9" stroke-linecap="round"/>
<line x1="404.43" y1="749.03" x2="404.43" y2="706.77" stroke="#000" stroke-width="3.9" stroke-linecap="round"/>
<line x1="412.16" y1="749.03" x2="412.16" y2="706.77" stroke="#000" stroke-width="3.9" stroke-linecap="round"/>
<line x1="419.89" y1="749.03" x2="419.89" y2="706.77" stroke="#000" stroke-width="3.9" stroke-linecap="round"/>
<line x1="427.62" y1="749.03" x2="427.62" y2="706.77" stroke="#000" stroke-width="3.9" stroke-linecap="round"/>
<line x1="435.35" y1="749.03" x2="435.35" y2="706.77" stroke="#000" stroke-width="3.9" stroke-linecap="round"/>
<line x1="443.08" y1="749.03" x2="443.08" y2="706.77" stroke="#000" stroke-width="3.9" stroke-linecap="round"/>
<polygon points="244.6,745.95 247.33,745.95 247.33,709.85 244.6,709.85" fill="#fff"/>
<polygon points="252.33,745.95 255.06,745.95 255.06,709.85 252.33,709.85" fill="#fff"/>
<polygon points="260.06,745.95 262.79,745.95 262.79,709.85 260.06,709.85" fill="#fff"/>
<polygon points="267.79,745.95 270.52,745.95 270.52,709.85 267.79,709.85" fill="#fff"/>
<polygon points="275.52,745.95 278.25,745.95 278.25,709.85 275.52,709.85" fill="#fff"/>
<polygon points="283.25,745.95 285.98,745.95 285.98,709.85 283.25,709.85" fill="#fff"/>
<polygon points="290.98,745.95 293.71,745.95 293.71,709.85 290.98,709.85" fill="#fff"/>
<polygon points="298.71,745.95 301.44,745.95 301.44,709.85 298.71,709.85" fill="#fff"/>
<polygon points="306.44,745.95 309.17,745.95 309.17,709.85 306.44,709.85" fill="#fff"/>
<polygon points="314.17,745.95 316.9,745.95 316.9,709.85 314.17,709.85" fill="#fff"/>
<polygon points="321.9,745.95 324.63,745.95 324.63,709.85 321.9,709.85" fill="#fff"/>
<polygon points="329.63,745.95 332.36,745.95 332.36,709.85 329.63,709.85" fill="#fff"/>
<polygon points="337.36,745.95 340.09,745.95 340.09,709.85 337.36,709.85" fill="#fff"/>
<polygon points="345.09,745.95 347.82,745.95 347.82,709.85 345.09,709.85" fill="#fff"/>
<polygon points="352.82,745.95 355.55,745.95 355.55,709.85 352.82,709.85" fill="#fff"/>
<polygon points="360.55,745.95 363.28,745.95 363.28,709.85 360.55,709.85" fill="#fff"/>
<polygon points="368.28,745.95 371.01,745.95 371.01,709.85 368.28,709.85" fill="#fff"/>
<polygon points="376.01,745.95 378.74,745.95 378.74,709.85 376.01,709.85" fill="#fff"/>
<polygon points="383.74,745.95 386.47,745.95 386.47,709.85 383.74,709.85" fill="#fff"/>
<polygon points="391.47,745.95 394.2,745.95 394.2,709.85 391.47,709.85" fill="#fff"/>
<polygon points="399.2,745.95 401.93,745.95 401.93,709.85 399.2,709.85" fill="#fff"/>
<polygon points="406.93,745.95 409.66,745.95 409.66,709.85 406.93,709.85" fill="#fff"/>
<polygon points="414.66,745.95 417.39,745.95 417.39,709.85 414.66,709.85" fill="#fff"/>
<polygon points="422.39,745.95 425.12,745.95 425.12,709.85 422.39,709.85" fill="#fff"/>
<polygon points="430.12,745.95 432.85,745.95 432.85,709.85 430.12,709.85" fill="#fff"/>
<polygon points="437.85,745.95 440.58,745.95 440.58,709.85 437.85,709.85" fill="#fff"/>
<line x1="242.1" y1="748.43" x2="242.1" y2="707.37" stroke="#fff" stroke-width="1.4" stroke-linecap="round"/>
<line x1="249.83" y1="748.43" x2="249.83" y2="707.37" stroke="#fff" stroke-width="1.4" stroke-linecap="round"/>
<line x1="257.56" y1="748.43" x2="257.56" y2="707.37" stroke="#fff" stroke-width="1.4" stroke-linecap="round"/>
<line x1="265.29" y1="748.43" x2="265.29" y2="707.37" stroke="#fff" stroke-width="1.4" stroke-linecap="round"/>
<line x1="273.02" y1="748.43" x2="273.02" y2="707.37" stroke="#fff" stroke-width="1.4" stroke-linecap="round"/>
<line x1="280.75" y1="748.43" x2="280.75" y2="707.37" stroke="#fff" stroke-width="1.4" stroke-linecap="round"/>
<line x1="288.48" y1="748.43" x2="288.48" y2="707.37" stroke="#fff" stroke-width="1.4" stroke-linecap="round"/>
<line x1="296.21" y1="748.43" x2="296.21" y2="707.37" stroke="#fff" stroke-width="1.4" stroke-linecap="round"/>
<line x1="303.94" y1="748.43" x2="303.94" y2="707.37" stroke="#fff" stroke-width="1.4" stroke-linecap="round"/>
<line x1="311.67" y1="748.43" x2="311.67" y2="707.37" stroke="#fff" stroke-width="1.4" stroke-linecap="round"/>
<line x1="319.4" y1="748.43" x2="319.4" y2="707.37" stroke="#fff" stroke-width="1.4" stroke-linecap="round"/>
<line x1="327.13" y1="748.43" x2="327.13" y2="707.37" stroke="#fff" stroke-width="1.4" stroke-linecap="round"/>
<line x1="334.86" y1="748.43" x2="334.86" y2="707.37" stroke="#fff" stroke-width="1.4" stroke-linecap="round"/>
<line x1="342.59" y1="748.43" x2="342.59" y2="707.37" stroke="#fff" stroke-width="1.4" stroke-linecap="round"/>
<line x1="350.32" y1="748.43" x2="350.32" y2="707.37" stroke="#fff" stroke-width="1.4" stroke-linecap="round"/>
<line x1="358.05" y1="748.43" x2="358.05" y2="707.37" stroke="#fff" stroke-width="1.4" stroke-linecap="round"/>
<line x1="365.78" y1="748.43" x2="365.78" y2="707.37" stroke="#fff" stroke-width="1.4" stroke-linecap="round"/>
<line x1="373.51" y1="748.43" x2="373.51" y2="707.37" stroke="#fff" stroke-width="1.4" stroke-linecap="round"/>
<line x1="381.24" y1="748.43" x2="381.24" y2="707.37" stroke="#fff" stroke-width="1.4" stroke-linecap="round"/>
<line x1="388.97" y1="748.43" x2="388.97" y2="707.37" stroke="#fff" stroke-width="1.4" stroke-linecap="round"/>
<line x1="396.7" y1="748.43" x2="396.7" y2="707.37" stroke="#fff" stroke-width="1.4" stroke-linecap="round"/>
<line x1="404.43" y1="748.43" x2="404.43" y2="707.37" stroke="#fff" stroke-width="1.4" stroke-linecap="round"/>
<line x1="412.16" y1="748.43" x2="412.16" y2="707.37" stroke="#fff" stroke-width="1.4" stroke-linecap="round"/>
<line x1="419.89" y1="748.43" x2="419.89" y2="707.37" stroke="#fff" stroke-width="1.4" stroke-linecap="round"/>
<line x1="427.62" y1="748.43" x2="427.62" y2="707.37" stroke="#fff" stroke-width="1.4" stroke-linecap="round"/>
<line x1="435.35" y1="748.43" x2="435.35" y2="707.37" stroke="#fff" stroke-width="1.4" stroke-linecap="round"/>
<line x1="443.08" y1="748.43" x2="443.08" y2="707.37" stroke="#fff" stroke-width="1.4" stroke-linecap="round"/>
<path d="M454.5,697.7 L449.5,697.7 Q442.6,729 449.5,760.9 L454.5,760.9 Z" fill="none" stroke="#c4c4c4" stroke-width="3.1" stroke-linejoin="round"/>
<path d="M454.5,697.7 L449.5,697.7 Q442.6,729 449.5,760.9 L454.5,760.9 Z" fill="#d4d4d4" stroke="#000" stroke-width="1.5" stroke-linejoin="round"/>
<path d="M454.5,707.3 L480.2,707.3 L480.2,752.3 L454.5,752.3 Z" fill="none" stroke="#c4c4c4" stroke-width="3.1" stroke-linejoin="round"/>
<path d="M454.5,707.3 L480.2,707.3 L480.2,752.3 L454.5,752.3 Z" fill="#fff" stroke="#000" stroke-width="1.5" stroke-linejoin="round"/>
<rect x="457.8" y="709" width="22.2" height="41.6" fill="none" stroke="#000" stroke-width="1.1"/>
<line x1="460.3" y1="709" x2="460.3" y2="750.5" stroke="#000" stroke-width="1.1"/>
<line x1="463.4" y1="709" x2="463.4" y2="750.5" stroke="#000" stroke-width="1.1"/>
<line x1="466.7" y1="709" x2="466.7" y2="750.5" stroke="#000" stroke-width="1.1"/>
<line x1="470" y1="709" x2="470" y2="750.5" stroke="#000" stroke-width="1.1"/>
<line x1="473.3" y1="709" x2="473.3" y2="750.5" stroke="#000" stroke-width="1.1"/>
<line x1="476.6" y1="709" x2="476.6" y2="750.5" stroke="#000" stroke-width="1.1"/>
<path d="M491.4,693.8 L499.5,693.8 Q501,691.3 504.5,691.3 L515.5,691.3 Q529.4,691.3 529.4,712 L529.4,747.5 Q529.4,767.3 515.5,767.3 L504.5,767.3 Q501,767.3 499.5,764.8 L491.4,764.8 Z" fill="none" stroke="#c4c4c4" stroke-width="3.1" stroke-linejoin="round"/>
<path d="M491.4,693.8 L499.5,693.8 Q501,691.3 504.5,691.3 L515.5,691.3 Q529.4,691.3 529.4,712 L529.4,747.5 Q529.4,767.3 515.5,767.3 L504.5,767.3 Q501,767.3 499.5,764.8 L491.4,764.8 Z" fill="#fff" stroke="#000" stroke-width="1.5" stroke-linejoin="round"/>
<path d="M496,696.3 L515,696.3 Q525.6,696.3 525.6,713 L525.6,746 Q525.6,762.6 515,762.6 L496,762.6" fill="none" stroke="#000" stroke-width="1.3"/>
<path d="M480.6,692.9 L486.6,692.9 L486.6,767.6 L480.6,767.6 Z" fill="none" stroke="#c4c4c4" stroke-width="2.9000000000000004" stroke-linejoin="round"/>
<path d="M480.6,692.9 L486.6,692.9 L486.6,767.6 L480.6,767.6 Z" fill="#525252" stroke="#000" stroke-width="1.3" stroke-linejoin="round"/>
<path d="M486.6,690.5 L491.4,690.5 L491.4,768.4 L486.6,768.4 Z" fill="none" stroke="#c4c4c4" stroke-width="2.9000000000000004" stroke-linejoin="round"/>
<path d="M486.6,690.5 L491.4,690.5 L491.4,768.4 L486.6,768.4 Z" fill="#fff" stroke="#000" stroke-width="1.3" stroke-linejoin="round"/>
<line x1="488" y1="714.5" x2="488" y2="741" stroke="#000" stroke-width="1.6"/>
<line x1="530" y1="728.5" x2="537" y2="728.5" stroke="#999" stroke-width="1.2"/>
<line x1="44" y1="728.5" x2="528" y2="728.5" stroke="#000" stroke-width="1.1" stroke-dasharray="5.2 3.5 1.2 3.5"/>
<line x1="118.4" y1="655" x2="118.4" y2="800" stroke="#000" stroke-width="1.1" stroke-dasharray="5.2 3.5 1.2 3.5"/>
</svg>
</body></html>
